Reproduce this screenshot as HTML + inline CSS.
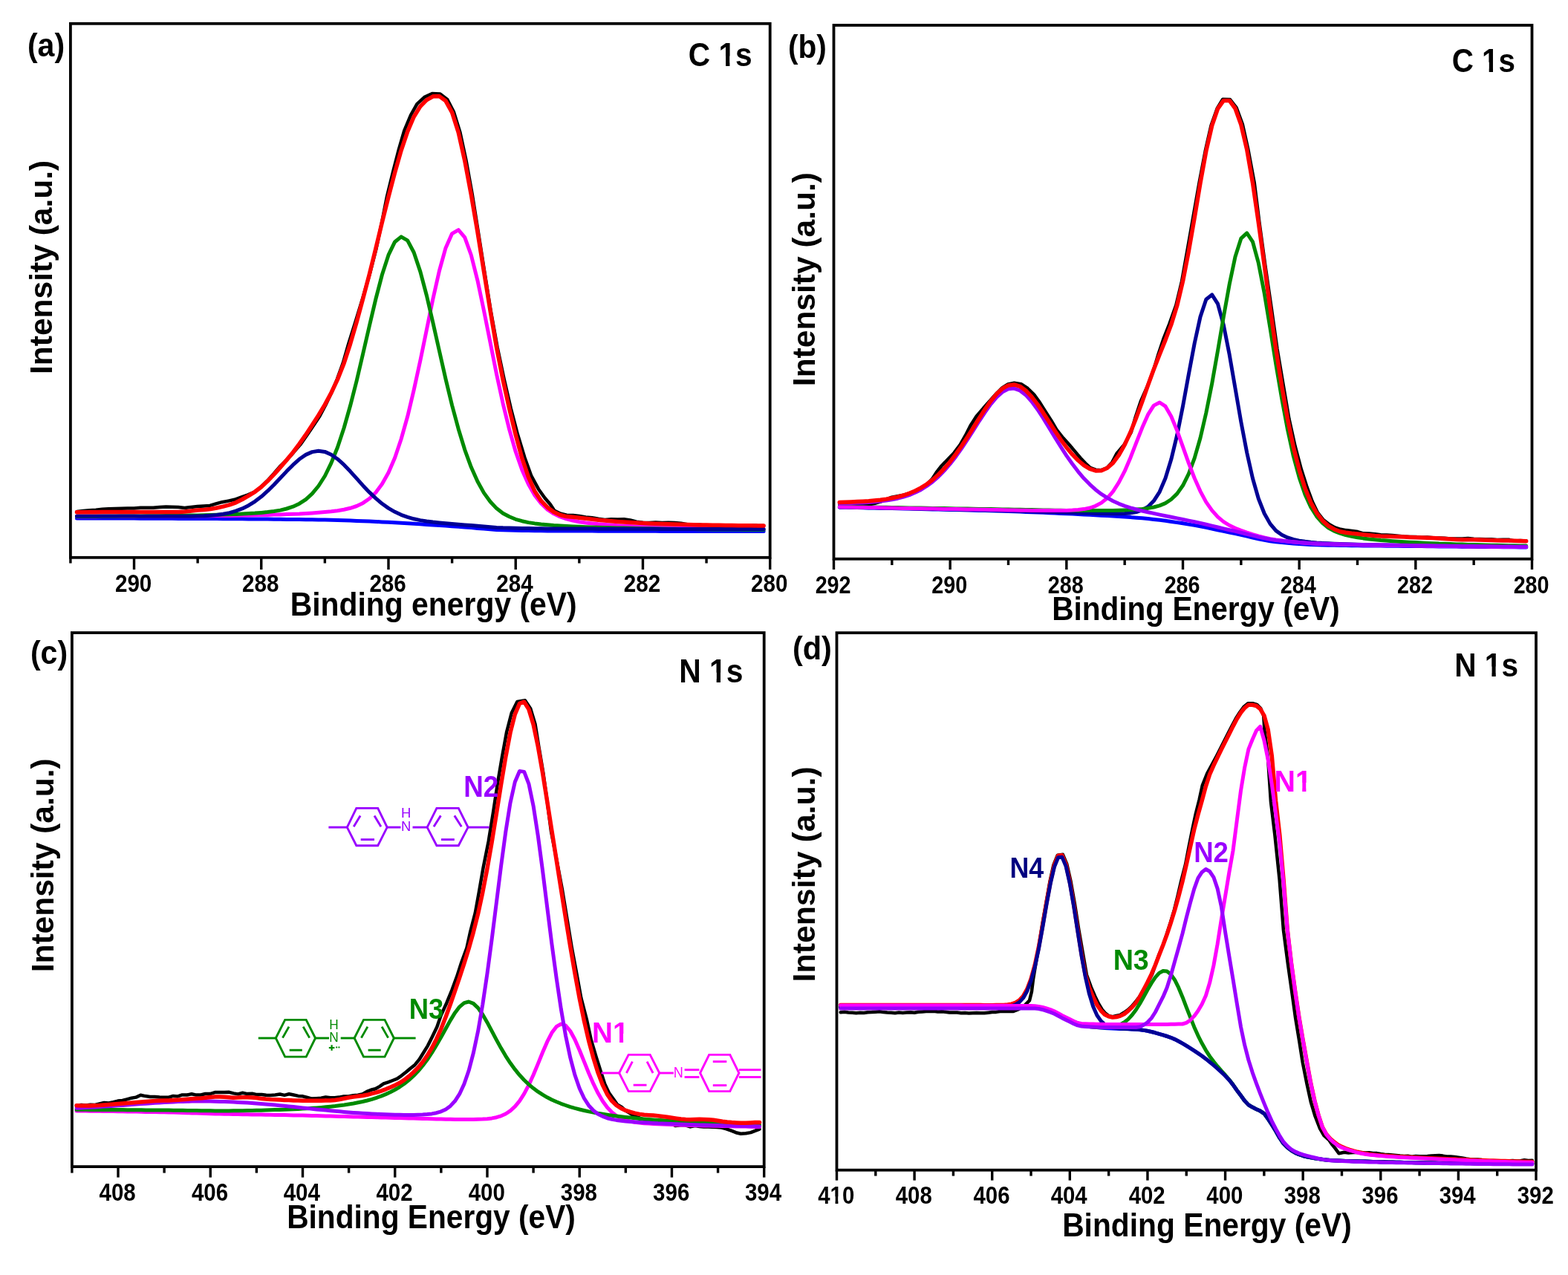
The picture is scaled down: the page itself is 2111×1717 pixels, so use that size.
<!DOCTYPE html>
<html><head><meta charset="utf-8"><style>
html,body{margin:0;padding:0;background:#fff;}
svg{display:block;}
text{font-family:"Liberation Sans",Arial,sans-serif;font-weight:bold;}
</style></head><body>
<svg xmlns="http://www.w3.org/2000/svg" width="2111" height="1717" viewBox="0 0 2111 1717">
<rect width="2111" height="1717" fill="#fff"/>
<defs><clipPath id="c1_0" clipPathUnits="userSpaceOnUse"><path d="M-16.79,-50.36 H72.78 V20.14 H-16.79 Z M20.01,-10.07 H26.62 V1.01 H20.01 Z M31.02,-10.07 H37.47 V1.01 H31.02 Z" clip-rule="evenodd"/></clipPath><clipPath id="c1_1" clipPathUnits="userSpaceOnUse"><path d="M-22.54,-67.61 H117.72 V27.04 H-22.54 Z M46.87,-13.52 H55.75 V1.35 H46.87 Z M61.66,-13.52 H70.31 V1.35 H61.66 Z" clip-rule="evenodd"/></clipPath><clipPath id="c1_2" clipPathUnits="userSpaceOnUse"><path d="M-22.32,-66.97 H116.62 V26.79 H-22.32 Z M46.43,-13.39 H55.23 V1.34 H46.43 Z M61.08,-13.39 H69.65 V1.34 H61.08 Z" clip-rule="evenodd"/></clipPath><clipPath id="c1_3" clipPathUnits="userSpaceOnUse"><path d="M-22.61,-67.82 H118.10 V27.13 H-22.61 Z M47.02,-13.56 H55.93 V1.36 H47.02 Z M61.85,-13.56 H70.53 V1.36 H61.85 Z" clip-rule="evenodd"/></clipPath><clipPath id="c1_4" clipPathUnits="userSpaceOnUse"><path d="M-22.57,-67.71 H117.91 V27.09 H-22.57 Z M46.95,-13.54 H55.84 V1.35 H46.95 Z M61.76,-13.54 H70.42 V1.35 H61.76 Z" clip-rule="evenodd"/></clipPath><clipPath id="c1_5" clipPathUnits="userSpaceOnUse"><path d="M-19.64,-58.91 H69.83 V23.57 H-19.64 Z M29.93,-11.78 H37.67 V1.18 H29.93 Z M42.81,-11.78 H50.35 V1.18 H42.81 Z" clip-rule="evenodd"/></clipPath><clipPath id="c1_6" clipPathUnits="userSpaceOnUse"><path d="M-19.93,-59.78 H70.86 V23.91 H-19.93 Z M30.37,-11.96 H38.22 V1.20 H30.37 Z M43.44,-11.96 H51.09 V1.20 H43.44 Z" clip-rule="evenodd"/></clipPath></defs>
<rect x="94.9" y="31.8" width="941.80" height="719.00" fill="none" stroke="#000" stroke-width="3.8"/>
<line x1="1036.70" y1="750.8" x2="1036.70" y2="767" stroke="#000" stroke-width="3.4"/>
<line x1="865.46" y1="750.8" x2="865.46" y2="767" stroke="#000" stroke-width="3.4"/>
<line x1="694.23" y1="750.8" x2="694.23" y2="767" stroke="#000" stroke-width="3.4"/>
<line x1="522.99" y1="750.8" x2="522.99" y2="767" stroke="#000" stroke-width="3.4"/>
<line x1="351.75" y1="750.8" x2="351.75" y2="767" stroke="#000" stroke-width="3.4"/>
<line x1="180.52" y1="750.8" x2="180.52" y2="767" stroke="#000" stroke-width="3.4"/>
<line x1="951.08" y1="750.8" x2="951.08" y2="758.5" stroke="#000" stroke-width="3.4"/>
<line x1="779.85" y1="750.8" x2="779.85" y2="758.5" stroke="#000" stroke-width="3.4"/>
<line x1="608.61" y1="750.8" x2="608.61" y2="758.5" stroke="#000" stroke-width="3.4"/>
<line x1="437.37" y1="750.8" x2="437.37" y2="758.5" stroke="#000" stroke-width="3.4"/>
<line x1="266.14" y1="750.8" x2="266.14" y2="758.5" stroke="#000" stroke-width="3.4"/>
<line x1="94.90" y1="750.8" x2="94.90" y2="758.5" stroke="#000" stroke-width="3.4"/>
<text transform="translate(1011.11,796.80) scale(0.8750,1)" font-size="33.86" fill="#000">280</text>
<text transform="translate(839.87,796.80) scale(0.8750,1)" font-size="33.86" fill="#000">282</text>
<text transform="translate(668.19,796.80) scale(0.8750,1)" font-size="33.86" fill="#000">284</text>
<text transform="translate(497.40,796.80) scale(0.8750,1)" font-size="33.86" fill="#000">286</text>
<text transform="translate(326.02,796.80) scale(0.8750,1)" font-size="33.86" fill="#000">288</text>
<text transform="translate(154.93,796.80) scale(0.8750,1)" font-size="33.86" fill="#000">290</text>
<rect x="1122.5" y="34.0" width="940.00" height="718.70" fill="none" stroke="#000" stroke-width="3.8"/>
<line x1="2062.50" y1="752.7" x2="2062.50" y2="767" stroke="#000" stroke-width="3.4"/>
<line x1="1905.83" y1="752.7" x2="1905.83" y2="767" stroke="#000" stroke-width="3.4"/>
<line x1="1749.17" y1="752.7" x2="1749.17" y2="767" stroke="#000" stroke-width="3.4"/>
<line x1="1592.50" y1="752.7" x2="1592.50" y2="767" stroke="#000" stroke-width="3.4"/>
<line x1="1435.83" y1="752.7" x2="1435.83" y2="767" stroke="#000" stroke-width="3.4"/>
<line x1="1279.17" y1="752.7" x2="1279.17" y2="767" stroke="#000" stroke-width="3.4"/>
<line x1="1122.50" y1="752.7" x2="1122.50" y2="767" stroke="#000" stroke-width="3.4"/>
<line x1="1984.17" y1="752.7" x2="1984.17" y2="761" stroke="#000" stroke-width="3.4"/>
<line x1="1827.50" y1="752.7" x2="1827.50" y2="761" stroke="#000" stroke-width="3.4"/>
<line x1="1670.83" y1="752.7" x2="1670.83" y2="761" stroke="#000" stroke-width="3.4"/>
<line x1="1514.17" y1="752.7" x2="1514.17" y2="761" stroke="#000" stroke-width="3.4"/>
<line x1="1357.50" y1="752.7" x2="1357.50" y2="761" stroke="#000" stroke-width="3.4"/>
<line x1="1200.83" y1="752.7" x2="1200.83" y2="761" stroke="#000" stroke-width="3.4"/>
<text transform="translate(2037.64,798.80) scale(0.8750,1)" font-size="32.86" fill="#000">280</text>
<text transform="translate(1880.97,798.80) scale(0.8750,1)" font-size="32.86" fill="#000">282</text>
<text transform="translate(1723.87,798.80) scale(0.8750,1)" font-size="32.86" fill="#000">284</text>
<text transform="translate(1567.64,798.80) scale(0.8750,1)" font-size="32.86" fill="#000">286</text>
<text transform="translate(1410.83,798.80) scale(0.8750,1)" font-size="32.86" fill="#000">288</text>
<text transform="translate(1254.30,798.80) scale(0.8750,1)" font-size="32.86" fill="#000">290</text>
<text transform="translate(1097.64,798.80) scale(0.8750,1)" font-size="32.86" fill="#000">292</text>
<rect x="96.9" y="852.1" width="931.80" height="719.00" fill="none" stroke="#000" stroke-width="3.8"/>
<line x1="1028.70" y1="1571.1" x2="1028.70" y2="1585.6" stroke="#000" stroke-width="3.4"/>
<line x1="904.46" y1="1571.1" x2="904.46" y2="1585.6" stroke="#000" stroke-width="3.4"/>
<line x1="780.22" y1="1571.1" x2="780.22" y2="1585.6" stroke="#000" stroke-width="3.4"/>
<line x1="655.98" y1="1571.1" x2="655.98" y2="1585.6" stroke="#000" stroke-width="3.4"/>
<line x1="531.74" y1="1571.1" x2="531.74" y2="1585.6" stroke="#000" stroke-width="3.4"/>
<line x1="407.50" y1="1571.1" x2="407.50" y2="1585.6" stroke="#000" stroke-width="3.4"/>
<line x1="283.26" y1="1571.1" x2="283.26" y2="1585.6" stroke="#000" stroke-width="3.4"/>
<line x1="159.02" y1="1571.1" x2="159.02" y2="1585.6" stroke="#000" stroke-width="3.4"/>
<line x1="966.58" y1="1571.1" x2="966.58" y2="1579.6" stroke="#000" stroke-width="3.4"/>
<line x1="842.34" y1="1571.1" x2="842.34" y2="1579.6" stroke="#000" stroke-width="3.4"/>
<line x1="718.10" y1="1571.1" x2="718.10" y2="1579.6" stroke="#000" stroke-width="3.4"/>
<line x1="593.86" y1="1571.1" x2="593.86" y2="1579.6" stroke="#000" stroke-width="3.4"/>
<line x1="469.62" y1="1571.1" x2="469.62" y2="1579.6" stroke="#000" stroke-width="3.4"/>
<line x1="345.38" y1="1571.1" x2="345.38" y2="1579.6" stroke="#000" stroke-width="3.4"/>
<line x1="221.14" y1="1571.1" x2="221.14" y2="1579.6" stroke="#000" stroke-width="3.4"/>
<line x1="96.90" y1="1571.1" x2="96.90" y2="1579.6" stroke="#000" stroke-width="3.4"/>
<text transform="translate(1002.92,1616.80) scale(0.8750,1)" font-size="33.71" fill="#000">394</text>
<text transform="translate(879.12,1616.80) scale(0.8750,1)" font-size="33.71" fill="#000">396</text>
<text transform="translate(754.74,1616.80) scale(0.8750,1)" font-size="33.71" fill="#000">398</text>
<text transform="translate(630.64,1616.80) scale(0.8750,1)" font-size="33.71" fill="#000">400</text>
<text transform="translate(506.40,1616.80) scale(0.8750,1)" font-size="33.71" fill="#000">402</text>
<text transform="translate(381.72,1616.80) scale(0.8750,1)" font-size="33.71" fill="#000">404</text>
<text transform="translate(257.92,1616.80) scale(0.8750,1)" font-size="33.71" fill="#000">406</text>
<text transform="translate(133.54,1616.80) scale(0.8750,1)" font-size="33.71" fill="#000">408</text>
<rect x="1126.5" y="852.2" width="941.50" height="723.50" fill="none" stroke="#000" stroke-width="3.8"/>
<line x1="2068.00" y1="1575.7" x2="2068.00" y2="1589.6" stroke="#000" stroke-width="3.4"/>
<line x1="1963.39" y1="1575.7" x2="1963.39" y2="1589.6" stroke="#000" stroke-width="3.4"/>
<line x1="1858.78" y1="1575.7" x2="1858.78" y2="1589.6" stroke="#000" stroke-width="3.4"/>
<line x1="1754.17" y1="1575.7" x2="1754.17" y2="1589.6" stroke="#000" stroke-width="3.4"/>
<line x1="1649.56" y1="1575.7" x2="1649.56" y2="1589.6" stroke="#000" stroke-width="3.4"/>
<line x1="1544.94" y1="1575.7" x2="1544.94" y2="1589.6" stroke="#000" stroke-width="3.4"/>
<line x1="1440.33" y1="1575.7" x2="1440.33" y2="1589.6" stroke="#000" stroke-width="3.4"/>
<line x1="1335.72" y1="1575.7" x2="1335.72" y2="1589.6" stroke="#000" stroke-width="3.4"/>
<line x1="1231.11" y1="1575.7" x2="1231.11" y2="1589.6" stroke="#000" stroke-width="3.4"/>
<line x1="1126.50" y1="1575.7" x2="1126.50" y2="1589.6" stroke="#000" stroke-width="3.4"/>
<line x1="2015.69" y1="1575.7" x2="2015.69" y2="1583.6" stroke="#000" stroke-width="3.4"/>
<line x1="1911.08" y1="1575.7" x2="1911.08" y2="1583.6" stroke="#000" stroke-width="3.4"/>
<line x1="1806.47" y1="1575.7" x2="1806.47" y2="1583.6" stroke="#000" stroke-width="3.4"/>
<line x1="1701.86" y1="1575.7" x2="1701.86" y2="1583.6" stroke="#000" stroke-width="3.4"/>
<line x1="1597.25" y1="1575.7" x2="1597.25" y2="1583.6" stroke="#000" stroke-width="3.4"/>
<line x1="1492.64" y1="1575.7" x2="1492.64" y2="1583.6" stroke="#000" stroke-width="3.4"/>
<line x1="1388.03" y1="1575.7" x2="1388.03" y2="1583.6" stroke="#000" stroke-width="3.4"/>
<line x1="1283.42" y1="1575.7" x2="1283.42" y2="1583.6" stroke="#000" stroke-width="3.4"/>
<line x1="1178.81" y1="1575.7" x2="1178.81" y2="1583.6" stroke="#000" stroke-width="3.4"/>
<text transform="translate(2042.77,1621.30) scale(0.8750,1)" font-size="33.57" fill="#000">392</text>
<text transform="translate(1937.71,1621.30) scale(0.8750,1)" font-size="33.57" fill="#000">394</text>
<text transform="translate(1833.54,1621.30) scale(0.8750,1)" font-size="33.57" fill="#000">396</text>
<text transform="translate(1728.79,1621.30) scale(0.8750,1)" font-size="33.57" fill="#000">398</text>
<text transform="translate(1624.32,1621.30) scale(0.8750,1)" font-size="33.57" fill="#000">400</text>
<text transform="translate(1519.71,1621.30) scale(0.8750,1)" font-size="33.57" fill="#000">402</text>
<text transform="translate(1414.66,1621.30) scale(0.8750,1)" font-size="33.57" fill="#000">404</text>
<text transform="translate(1310.49,1621.30) scale(0.8750,1)" font-size="33.57" fill="#000">406</text>
<text transform="translate(1205.73,1621.30) scale(0.8750,1)" font-size="33.57" fill="#000">408</text>
<text transform="translate(1101.27,1621.30) scale(0.8750,1)" font-size="33.57" fill="#000" clip-path="url(#c1_0)">410</text>
<text transform="translate(36.95,76.15) scale(0.9325,1)" font-size="44.04" fill="#000">(a)</text>
<text transform="translate(1060.97,78.38) scale(0.9170,1)" font-size="44.36" fill="#000">(b)</text>
<text transform="translate(40.95,894.23) scale(0.9303,1)" font-size="44.15" fill="#000">(c)</text>
<text transform="translate(1066.92,888.34) scale(0.9520,1)" font-size="43.62" fill="#000">(d)</text>
<text transform="translate(926.77,88.95) scale(0.9028,1)" font-size="45.07" fill="#000" clip-path="url(#c1_1)">C 1s</text>
<text transform="translate(1954.68,97.15) scale(0.9058,1)" font-size="44.65" fill="#000" clip-path="url(#c1_2)">C 1s</text>
<text transform="translate(914.14,919.30) scale(0.9035,1)" font-size="45.21" fill="#000" clip-path="url(#c1_3)">N 1s</text>
<text transform="translate(1958.15,911.05) scale(0.9005,1)" font-size="45.14" fill="#000" clip-path="url(#c1_4)">N 1s</text>
<text transform="translate(390.64,829.00) scale(0.9189,1)" font-size="44.50" fill="#000">Binding energy (eV)</text>
<text transform="translate(1416.16,835.00) scale(0.9117,1)" font-size="44.50" fill="#000">Binding Energy (eV)</text>
<text transform="translate(386.15,1653.60) scale(0.9141,1)" font-size="44.50" fill="#000">Binding Energy (eV)</text>
<text transform="translate(1430.15,1665.00) scale(0.9165,1)" font-size="44.50" fill="#000">Binding Energy (eV)</text>
<text transform="translate(70.44,503.98) rotate(-90) scale(0.9971,1)" font-size="42.66" fill="#000">Intensity (a.u.)</text>
<text transform="translate(1097.46,520.18) rotate(-90) scale(1.0223,1)" font-size="41.60" fill="#000">Intensity (a.u.)</text>
<text transform="translate(71.83,1309.27) rotate(-90) scale(1.0058,1)" font-size="42.23" fill="#000">Intensity (a.u.)</text>
<text transform="translate(1097.44,1322.40) rotate(-90) scale(1.0269,1)" font-size="41.70" fill="#000">Intensity (a.u.)</text>
<polyline points="103.5,688.9 112.0,687.9 120.6,687.3 129.1,686.8 137.7,685.7 146.3,685.2 154.8,685.0 163.4,684.7 171.9,684.5 180.5,684.4 189.1,683.7 197.6,683.7 206.2,683.8 214.8,683.1 223.4,682.5 231.9,682.7 240.2,683.1 248.6,683.9 257.0,682.9 265.7,682.1 274.2,681.4 282.6,680.9 290.7,678.4 298.9,676.2 307.3,674.6 315.8,672.8 324.6,669.7 333.9,666.4 343.2,662.3 351.6,655.6 360.0,647.4 368.3,638.3 376.5,628.6 386.0,619.4 395.1,609.4 404.4,598.6 413.1,586.3 421.7,573.4 430.5,560.2 438.3,545.4 446.2,529.1 453.9,510.6 461.8,488.8 469.4,462.4 478.6,433.1 488.2,402.0 497.6,369.4 506.5,334.9 514.1,299.3 521.0,264.5 529.0,231.7 536.8,201.6 544.4,175.5 553.0,155.0 561.4,140.1 571.4,130.8 581.8,126.1 592.6,126.5 602.3,134.0 610.8,150.5 619.3,177.8 627.5,215.9 635.8,261.8 643.8,312.1 652.1,364.9 660.6,418.0 669.6,467.6 678.8,511.2 687.7,549.8 696.9,585.0 706.3,615.9 715.3,640.9 725.0,658.7 733.4,670.5 740.7,679.0 746.6,687.9 754.8,691.7 763.0,693.7 771.5,693.9 780.1,695.0 788.6,696.5 797.2,697.3 805.7,698.7 814.2,699.9 822.9,699.3 831.4,699.5 840.0,699.2 848.5,700.5 857.0,702.7 865.5,703.7 874.1,704.0 882.7,703.4 891.2,704.1 899.8,703.7 908.3,704.1 916.9,704.7 925.4,706.2 933.9,707.2 942.5,706.8 951.1,707.9 959.6,708.1 968.2,707.7 976.8,707.3 985.3,708.0 993.9,707.6 1002.5,707.5 1011.0,707.2 1019.6,707.8 1028.1,708.0" fill="none" stroke="#000000" stroke-width="4.5" stroke-linejoin="round" stroke-linecap="round"/>
<polyline points="103.5,698.0 112.0,698.0 120.6,698.0 129.1,698.0 137.7,698.0 146.3,698.1 154.8,698.1 163.4,698.1 172.0,698.1 180.5,698.1 189.1,698.2 197.6,698.2 206.2,698.2 214.8,698.3 223.3,698.3 231.9,698.3 240.5,698.4 249.0,698.4 257.6,698.4 266.1,698.5 274.7,698.5 283.3,698.6 291.8,698.6 300.4,698.7 308.9,698.7 317.5,698.8 326.1,698.8 334.6,698.9 343.2,698.9 351.8,699.0 360.3,699.1 368.9,699.2 377.4,699.3 386.0,699.4 394.6,699.5 403.1,699.6 411.7,699.7 420.2,699.8 428.8,699.9 437.4,700.1 445.9,700.2 454.5,700.5 463.1,700.8 471.6,701.1 480.2,701.4 488.7,701.7 497.3,702.1 505.9,702.5 514.4,702.9 523.0,703.3 531.6,703.8 540.1,704.3 548.7,704.8 557.2,705.3 565.8,705.8 574.4,706.4 582.9,706.9 591.5,707.5 600.0,708.1 608.6,708.7 617.2,709.3 625.7,709.9 634.3,710.6 642.9,711.4 651.4,712.0 660.0,712.7 668.5,713.4 677.1,713.8 685.7,714.0 694.2,714.2 702.8,714.4 711.4,714.5 719.9,714.7 728.5,714.8 737.0,714.9 745.6,714.9 754.2,715.0 762.7,715.0 771.3,715.0 779.8,715.1 788.4,715.1 797.0,715.1 805.5,715.2 814.1,715.2 822.7,715.2 831.2,715.2 839.8,715.3 848.3,715.3 856.9,715.3 865.5,715.3 874.0,715.3 882.6,715.3 891.1,715.4 899.7,715.4 908.3,715.4 916.8,715.4 925.4,715.4 934.0,715.4 942.5,715.4 951.1,715.5 959.6,715.5 968.2,715.5 976.8,715.5 985.3,715.5 993.9,715.5 1002.5,715.5 1011.0,715.5 1019.6,715.5 1028.1,715.5" fill="none" stroke="#0000ff" stroke-width="5" stroke-linejoin="round" stroke-linecap="round"/>
<polyline points="103.5,695.8 112.0,695.7 120.6,695.7 129.1,695.7 137.7,695.6 146.3,695.6 154.8,695.6 163.4,695.5 172.0,695.5 180.5,695.5 189.1,695.4 197.6,695.4 206.2,695.3 214.8,695.3 223.3,695.2 231.9,695.2 240.5,695.1 249.0,695.1 257.6,695.0 266.1,694.9 274.7,694.8 283.3,694.7 291.8,694.6 300.4,694.5 308.9,694.4 317.5,694.2 326.1,694.1 334.6,693.9 343.2,693.8 351.8,693.6 360.3,693.4 368.9,693.1 377.4,692.9 386.0,692.6 394.6,692.2 403.1,691.9 411.7,691.4 420.2,690.9 428.8,690.3 437.4,689.6 445.9,688.8 454.5,687.7 463.1,686.3 471.6,684.3 480.2,681.5 488.7,677.4 497.3,671.5 505.9,663.2 514.4,651.8 523.0,636.5 531.6,616.5 540.1,591.3 548.7,560.8 557.2,525.2 565.8,485.7 574.4,443.9 582.9,402.4 591.5,364.5 600.0,333.9 608.6,314.6 617.2,309.6 625.7,319.7 634.3,343.5 642.9,377.6 651.4,418.0 660.0,461.1 668.5,503.7 677.1,543.3 685.7,578.4 694.2,608.2 702.8,632.7 711.4,652.1 719.9,666.9 728.5,678.0 737.0,686.1 745.6,691.8 754.2,696.0 762.7,698.9 771.3,701.1 779.8,702.7 788.4,703.9 797.0,704.9 805.5,705.8 814.1,706.5 822.7,707.1 831.2,707.7 839.8,708.2 848.3,708.6 856.9,709.0 865.5,709.4 874.0,709.7 882.6,710.0 891.1,710.3 899.7,710.5 908.3,710.7 916.8,711.0 925.4,711.1 934.0,711.3 942.5,711.5 951.1,711.6 959.6,711.8 968.2,711.9 976.8,712.0 985.3,712.2 993.9,712.3 1002.5,712.4 1011.0,712.5 1019.6,712.5 1028.1,712.6" fill="none" stroke="#ff00ff" stroke-width="5" stroke-linejoin="round" stroke-linecap="round"/>
<polyline points="103.5,695.5 112.0,695.5 120.6,695.4 129.1,695.4 137.7,695.3 146.3,695.3 154.8,695.2 163.4,695.1 172.0,695.1 180.5,695.0 189.1,694.9 197.6,694.8 206.2,694.8 214.8,694.7 223.3,694.6 231.9,694.4 240.5,694.3 249.0,694.2 257.6,694.0 266.1,693.9 274.7,693.7 283.3,693.5 291.8,693.2 300.4,693.0 308.9,692.7 317.5,692.4 326.1,692.0 334.6,691.6 343.2,691.1 351.8,690.4 360.3,689.6 368.9,688.5 377.4,687.1 386.0,685.0 394.6,682.2 403.1,678.2 411.7,672.6 420.2,664.9 428.8,654.5 437.4,641.0 445.9,623.6 454.5,602.2 463.1,576.3 471.6,546.3 480.2,512.6 488.7,476.3 497.3,439.0 505.9,402.7 514.4,370.0 523.0,343.4 531.6,325.7 540.1,318.9 548.7,323.9 557.2,340.0 565.8,365.6 574.4,398.0 582.9,434.6 591.5,472.8 600.0,510.4 608.6,545.8 617.2,577.7 625.7,605.6 634.3,629.1 642.9,648.3 651.4,663.6 660.0,675.5 668.5,684.6 677.1,691.2 685.7,695.8 694.2,699.3 702.8,701.7 711.4,703.6 719.9,704.9 728.5,706.0 737.0,706.8 745.6,707.5 754.2,708.0 762.7,708.5 771.3,708.9 779.8,709.3 788.4,709.7 797.0,710.0 805.5,710.2 814.1,710.5 822.7,710.7 831.2,710.9 839.8,711.1 848.3,711.3 856.9,711.5 865.5,711.7 874.0,711.8 882.6,712.0 891.1,712.1 899.7,712.2 908.3,712.3 916.8,712.4 925.4,712.5 934.0,712.6 942.5,712.7 951.1,712.8 959.6,712.9 968.2,712.9 976.8,713.0 985.3,713.1 993.9,713.1 1002.5,713.2 1011.0,713.2 1019.6,713.3 1028.1,713.3" fill="none" stroke="#008a00" stroke-width="5" stroke-linejoin="round" stroke-linecap="round"/>
<polyline points="103.5,695.0 112.0,695.0 120.6,695.0 129.1,695.0 137.7,695.0 146.3,695.1 154.8,695.1 163.4,695.1 172.0,695.1 180.5,695.1 189.1,695.2 197.6,695.2 206.2,695.2 214.8,695.3 223.3,695.3 231.9,695.3 240.5,695.3 249.0,695.3 257.6,695.2 266.1,695.0 274.7,694.7 283.3,694.2 291.8,693.5 300.4,692.3 308.9,690.6 317.5,688.2 326.1,684.9 334.6,680.7 343.2,675.3 351.8,668.8 360.3,661.2 368.9,652.7 377.4,643.7 386.0,634.6 394.6,625.9 403.1,618.3 411.7,612.4 420.2,608.6 428.8,607.2 437.4,608.4 445.9,612.2 454.5,618.2 463.1,625.9 471.6,634.8 480.2,644.4 488.7,653.9 497.3,662.9 505.9,671.1 514.4,678.3 523.0,684.4 531.6,689.3 540.1,693.3 548.7,696.4 557.2,698.8 565.8,700.6 574.4,702.0 582.9,703.1 591.5,704.0 600.0,704.8 608.6,705.5 617.2,706.2 625.7,706.9 634.3,707.6 642.9,708.3 651.4,709.0 660.0,709.7 668.5,710.4 677.1,710.8 685.7,711.0 694.2,711.2 702.8,711.4 711.4,711.5 719.9,711.7 728.5,711.8 737.0,711.9 745.6,711.9 754.2,712.0 762.7,712.0 771.3,712.0 779.8,712.1 788.4,712.1 797.0,712.1 805.5,712.2 814.1,712.2 822.7,712.2 831.2,712.2 839.8,712.3 848.3,712.3 856.9,712.3 865.5,712.3 874.0,712.3 882.6,712.3 891.1,712.4 899.7,712.4 908.3,712.4 916.8,712.4 925.4,712.4 934.0,712.4 942.5,712.4 951.1,712.5 959.6,712.5 968.2,712.5 976.8,712.5 985.3,712.5 993.9,712.5 1002.5,712.5 1011.0,712.5 1019.6,712.5 1028.1,712.5" fill="none" stroke="#000094" stroke-width="5" stroke-linejoin="round" stroke-linecap="round"/>
<polyline points="103.5,689.8 112.0,689.8 120.6,689.7 129.1,689.7 137.7,689.6 146.3,689.6 154.8,689.6 163.4,689.6 172.0,689.5 180.5,689.5 189.1,689.5 197.6,689.5 206.2,689.5 214.8,689.5 223.3,689.5 231.9,689.6 240.5,689.5 249.0,689.1 257.6,688.0 266.1,687.1 274.7,686.4 283.3,685.5 291.8,684.0 300.4,682.1 308.9,679.9 317.5,676.8 326.1,672.5 334.6,667.7 343.2,662.3 351.8,655.7 360.3,647.8 368.9,638.9 377.4,629.4 386.0,619.4 394.6,609.0 403.1,597.7 411.7,585.4 420.2,572.5 428.8,559.2 437.4,544.9 445.9,529.0 454.5,510.9 463.1,489.2 471.6,463.1 480.2,433.5 488.7,402.1 497.3,369.4 505.9,334.7 514.4,299.4 523.0,265.0 531.6,232.4 540.1,202.6 548.7,177.1 557.2,157.2 565.8,143.4 574.4,134.6 582.9,129.8 591.5,129.6 600.0,135.8 608.6,151.4 617.2,178.4 625.7,216.3 634.3,262.1 642.9,312.3 651.4,365.0 660.0,418.1 668.5,467.8 677.1,511.5 685.7,550.3 694.2,585.6 702.8,616.9 711.4,642.4 719.9,661.4 728.5,674.4 737.0,683.2 745.6,689.5 754.2,693.5 762.7,695.6 771.3,696.3 779.8,697.2 788.4,698.3 797.0,699.3 805.5,700.3 814.1,701.1 822.7,701.8 831.2,702.5 839.8,703.1 848.3,703.6 856.9,704.1 865.5,704.5 874.0,704.9 882.6,705.2 891.1,705.5 899.7,705.8 908.3,706.1 916.8,706.3 925.4,706.5 934.0,706.7 942.5,706.9 951.1,707.1 959.6,707.2 968.2,707.3 976.8,707.5 985.3,707.6 993.9,707.7 1002.5,707.8 1011.0,707.8 1019.6,707.9 1028.1,708.0" fill="none" stroke="#ff0000" stroke-width="5.5" stroke-linejoin="round" stroke-linecap="round"/>
<polyline points="1130.4,679.0 1138.3,680.0 1146.2,680.3 1154.1,680.9 1161.9,679.5 1169.9,679.5 1177.7,677.9 1185.5,675.6 1193.1,672.5 1200.6,669.6 1208.4,668.1 1216.4,666.6 1224.3,664.3 1232.5,661.8 1240.4,657.5 1248.1,652.4 1254.9,645.1 1260.7,636.1 1267.5,627.5 1275.7,619.0 1284.6,609.7 1292.7,598.8 1299.8,586.4 1306.5,573.3 1314.5,560.8 1324.0,549.6 1333.2,539.3 1341.4,530.0 1349.1,522.4 1357.0,517.5 1365.5,515.7 1374.7,517.2 1383.6,523.0 1392.1,531.4 1399.9,542.1 1407.3,554.0 1415.2,566.2 1422.5,578.7 1431.1,589.6 1439.9,599.3 1447.6,608.4 1454.6,616.7 1461.3,623.9 1467.8,629.9 1475.2,632.7 1482.7,633.2 1490.4,630.0 1497.4,622.4 1503.3,611.0 1513.6,598.6 1522.8,582.2 1528.6,561.9 1535.8,540.4 1545.3,518.9 1553.3,497.4 1559.6,476.6 1566.2,456.9 1574.3,436.2 1583.3,411.1 1591.1,378.4 1598.3,338.2 1606.3,292.7 1614.5,246.1 1622.7,203.3 1630.5,168.9 1638.7,146.0 1646.2,133.7 1656.1,134.1 1664.7,145.2 1672.8,167.2 1680.3,201.0 1688.7,245.8 1695.4,299.4 1703.3,357.0 1711.7,414.9 1719.5,469.8 1727.9,519.7 1735.4,563.8 1743.7,601.2 1751.9,632.0 1759.8,656.6 1766.9,675.8 1773.9,690.2 1781.6,700.1 1789.7,706.3 1797.3,710.4 1804.8,712.8 1812.4,714.1 1820.0,715.0 1827.8,716.1 1835.5,718.3 1843.4,718.6 1851.2,719.3 1858.9,720.2 1866.7,720.4 1874.5,721.1 1882.4,721.8 1890.2,722.5 1898.0,722.9 1905.9,722.9 1913.7,723.7 1921.5,723.4 1929.4,724.2 1937.2,724.5 1945.1,724.7 1952.9,725.4 1960.7,725.4 1968.5,725.5 1976.3,724.9 1984.2,725.8 1992.0,726.0 1999.9,726.3 2007.7,726.3 2015.5,726.9 2023.4,726.8 2031.2,726.8 2039.0,728.4 2046.9,728.0 2054.7,728.4" fill="none" stroke="#000000" stroke-width="4.5" stroke-linejoin="round" stroke-linecap="round"/>
<polyline points="1130.3,683.2 1138.2,683.3 1146.0,683.5 1153.8,683.6 1161.7,683.8 1169.5,684.0 1177.3,684.1 1185.2,684.3 1193.0,684.5 1200.8,684.6 1208.7,684.8 1216.5,685.0 1224.3,685.1 1232.2,685.3 1240.0,685.5 1247.8,685.7 1255.7,685.9 1263.5,686.0 1271.3,686.2 1279.2,686.4 1287.0,686.6 1294.8,686.8 1302.7,687.0 1310.5,687.2 1318.3,687.4 1326.2,687.6 1334.0,687.8 1341.8,688.1 1349.7,688.3 1357.5,688.6 1365.3,688.8 1373.2,689.1 1381.0,689.4 1388.8,689.7 1396.7,690.0 1404.5,690.3 1412.3,690.7 1420.2,691.0 1428.0,691.4 1435.8,691.7 1443.7,692.1 1451.5,692.5 1459.3,692.9 1467.2,693.3 1475.0,693.7 1482.8,694.2 1490.7,694.6 1498.5,695.1 1506.3,695.5 1514.2,696.0 1522.0,696.6 1529.8,697.2 1537.7,697.8 1545.5,698.5 1553.3,699.4 1561.2,700.3 1569.0,701.3 1576.8,702.4 1584.7,703.6 1592.5,704.8 1600.3,706.1 1608.2,707.4 1616.0,708.9 1623.8,710.4 1631.7,712.1 1639.5,713.7 1647.3,715.4 1655.2,717.0 1663.0,718.6 1670.8,720.3 1678.7,722.1 1686.5,724.0 1694.3,725.7 1702.2,727.3 1710.0,728.7 1717.8,729.8 1725.7,730.6 1733.5,731.3 1741.3,731.9 1749.2,732.5 1757.0,733.0 1764.8,733.5 1772.7,733.8 1780.5,734.0 1788.3,734.2 1796.2,734.3 1804.0,734.5 1811.8,734.6 1819.7,734.7 1827.5,734.8 1835.3,734.9 1843.2,735.0 1851.0,735.0 1858.8,735.1 1866.7,735.2 1874.5,735.3 1882.3,735.3 1890.2,735.4 1898.0,735.5 1905.8,735.6 1913.7,735.6 1921.5,735.7 1929.3,735.8 1937.2,735.9 1945.0,736.0 1952.8,736.0 1960.7,736.1 1968.5,736.2 1976.3,736.3 1984.2,736.3 1992.0,736.4 1999.8,736.5 2007.7,736.6 2015.5,736.6 2023.3,736.7 2031.2,736.8 2039.0,736.8 2046.8,736.9 2054.7,736.9" fill="none" stroke="#0000ff" stroke-width="5" stroke-linejoin="round" stroke-linecap="round"/>
<polyline points="1130.3,682.9 1138.2,683.1 1146.0,683.2 1153.8,683.4 1161.7,683.5 1169.5,683.7 1177.3,683.8 1185.2,684.0 1193.0,684.1 1200.8,684.3 1208.7,684.5 1216.5,684.6 1224.3,684.8 1232.2,684.9 1240.0,685.1 1247.8,685.3 1255.7,685.4 1263.5,685.6 1271.3,685.8 1279.2,685.9 1287.0,686.1 1294.8,686.2 1302.7,686.4 1310.5,686.6 1318.3,686.8 1326.2,687.0 1334.0,687.1 1341.8,687.3 1349.7,687.5 1357.5,687.8 1365.3,688.0 1373.2,688.2 1381.0,688.5 1388.8,688.7 1396.7,688.9 1404.5,689.2 1412.3,689.4 1420.2,689.7 1428.0,689.9 1435.8,690.2 1443.7,690.4 1451.5,690.7 1459.3,690.9 1467.2,691.1 1475.0,691.4 1482.8,691.6 1490.7,691.7 1498.5,691.8 1506.3,691.8 1514.2,691.5 1522.0,690.9 1529.8,689.6 1537.7,687.0 1545.5,682.4 1553.3,674.6 1561.2,662.3 1569.0,644.0 1576.8,618.6 1584.7,585.9 1592.5,546.9 1600.3,504.2 1608.2,462.2 1616.0,426.6 1623.8,403.3 1631.7,396.9 1639.5,409.1 1647.3,437.7 1655.2,477.6 1663.0,522.9 1670.8,568.2 1678.7,609.5 1686.5,644.2 1694.3,671.5 1702.2,691.5 1710.0,705.4 1717.8,714.6 1725.7,720.3 1733.5,724.0 1741.3,726.5 1749.2,728.1 1757.0,729.3 1764.8,730.2 1772.7,730.9 1780.5,731.4 1788.3,731.8 1796.2,732.2 1804.0,732.5 1811.8,732.8 1819.7,733.0 1827.5,733.3 1835.3,733.5 1843.2,733.6 1851.0,733.8 1858.8,734.0 1866.7,734.1 1874.5,734.2 1882.3,734.4 1890.2,734.5 1898.0,734.6 1905.8,734.8 1913.7,734.9 1921.5,735.0 1929.3,735.1 1937.2,735.2 1945.0,735.4 1952.8,735.5 1960.7,735.6 1968.5,735.7 1976.3,735.8 1984.2,735.9 1992.0,736.0 1999.8,736.0 2007.7,736.1 2015.5,736.2 2023.3,736.3 2031.2,736.4 2039.0,736.5 2046.8,736.5 2054.7,736.6" fill="none" stroke="#000094" stroke-width="5" stroke-linejoin="round" stroke-linecap="round"/>
<polyline points="1130.3,682.3 1138.2,682.4 1146.0,682.5 1153.8,682.7 1161.7,682.8 1169.5,682.9 1177.3,683.1 1185.2,683.2 1193.0,683.3 1200.8,683.5 1208.7,683.6 1216.5,683.7 1224.3,683.9 1232.2,684.0 1240.0,684.1 1247.8,684.3 1255.7,684.4 1263.5,684.5 1271.3,684.6 1279.2,684.8 1287.0,684.9 1294.8,685.0 1302.7,685.1 1310.5,685.2 1318.3,685.4 1326.2,685.5 1334.0,685.6 1341.8,685.8 1349.7,685.9 1357.5,686.0 1365.3,686.2 1373.2,686.3 1381.0,686.5 1388.8,686.6 1396.7,686.8 1404.5,686.9 1412.3,687.0 1420.2,687.2 1428.0,687.3 1435.8,687.4 1443.7,687.5 1451.5,687.5 1459.3,687.6 1467.2,687.6 1475.0,687.6 1482.8,687.6 1490.7,687.5 1498.5,687.4 1506.3,687.2 1514.2,686.9 1522.0,686.5 1529.8,686.0 1537.7,685.4 1545.5,684.4 1553.3,683.0 1561.2,680.9 1569.0,677.6 1576.8,672.5 1584.7,664.9 1592.5,653.8 1600.3,638.1 1608.2,616.9 1616.0,589.7 1623.8,556.0 1631.7,516.4 1639.5,472.4 1647.3,426.6 1655.2,382.7 1663.0,345.7 1670.8,321.2 1678.7,313.9 1686.5,325.6 1694.3,354.2 1702.2,394.8 1710.0,441.9 1717.8,490.5 1725.7,536.8 1733.5,578.5 1741.3,614.1 1749.2,643.1 1757.0,665.9 1764.8,683.0 1772.7,695.5 1780.5,704.4 1788.3,710.7 1796.2,715.1 1804.0,718.2 1811.8,720.6 1819.7,722.3 1827.5,723.7 1835.3,724.9 1843.2,725.9 1851.0,726.7 1858.8,727.5 1866.7,728.1 1874.5,728.7 1882.3,729.3 1890.2,729.8 1898.0,730.2 1905.8,730.6 1913.7,731.0 1921.5,731.4 1929.3,731.7 1937.2,732.1 1945.0,732.3 1952.8,732.6 1960.7,732.9 1968.5,733.1 1976.3,733.4 1984.2,733.6 1992.0,733.8 1999.8,734.0 2007.7,734.2 2015.5,734.3 2023.3,734.5 2031.2,734.7 2039.0,734.8 2046.8,735.0 2054.7,735.1" fill="none" stroke="#008a00" stroke-width="5" stroke-linejoin="round" stroke-linecap="round"/>
<polyline points="1130.3,682.8 1138.2,682.9 1146.0,683.1 1153.8,683.2 1161.7,683.3 1169.5,683.5 1177.3,683.6 1185.2,683.8 1193.0,683.9 1200.8,684.1 1208.7,684.2 1216.5,684.4 1224.3,684.5 1232.2,684.7 1240.0,684.8 1247.8,685.0 1255.7,685.1 1263.5,685.2 1271.3,685.4 1279.2,685.5 1287.0,685.6 1294.8,685.8 1302.7,685.9 1310.5,686.1 1318.3,686.2 1326.2,686.3 1334.0,686.5 1341.8,686.6 1349.7,686.7 1357.5,686.9 1365.3,687.0 1373.2,687.2 1381.0,687.3 1388.8,687.4 1396.7,687.5 1404.5,687.6 1412.3,687.6 1420.2,687.6 1428.0,687.6 1435.8,687.4 1443.7,687.1 1451.5,686.6 1459.3,685.6 1467.2,684.0 1475.0,681.3 1482.8,677.1 1490.7,670.8 1498.5,661.8 1506.3,649.7 1514.2,634.4 1522.0,616.2 1529.8,596.2 1537.7,576.1 1545.5,558.4 1553.3,546.1 1561.2,542.0 1569.0,547.2 1576.8,560.7 1584.7,579.9 1592.5,601.7 1600.3,623.7 1608.2,644.0 1616.0,661.6 1623.8,676.1 1631.7,687.4 1639.5,696.1 1647.3,702.6 1655.2,707.5 1663.0,711.2 1670.8,714.3 1678.7,717.1 1686.5,719.6 1694.3,721.9 1702.2,723.9 1710.0,725.6 1717.8,727.0 1725.7,728.0 1733.5,729.0 1741.3,729.8 1749.2,730.6 1757.0,731.2 1764.8,731.8 1772.7,732.2 1780.5,732.6 1788.3,732.8 1796.2,733.1 1804.0,733.3 1811.8,733.5 1819.7,733.6 1827.5,733.8 1835.3,733.9 1843.2,734.1 1851.0,734.2 1858.8,734.3 1866.7,734.4 1874.5,734.5 1882.3,734.6 1890.2,734.7 1898.0,734.8 1905.8,735.0 1913.7,735.1 1921.5,735.2 1929.3,735.3 1937.2,735.4 1945.0,735.5 1952.8,735.6 1960.7,735.7 1968.5,735.8 1976.3,735.9 1984.2,735.9 1992.0,736.0 1999.8,736.1 2007.7,736.2 2015.5,736.3 2023.3,736.4 2031.2,736.4 2039.0,736.5 2046.8,736.6 2054.7,736.6" fill="none" stroke="#ff00ff" stroke-width="5" stroke-linejoin="round" stroke-linecap="round"/>
<polyline points="1130.3,678.0 1138.2,677.8 1146.0,677.6 1153.8,677.3 1161.7,676.9 1169.5,676.4 1177.3,675.8 1185.2,675.1 1193.0,674.1 1200.8,672.8 1208.7,671.2 1216.5,669.2 1224.3,666.6 1232.2,663.3 1240.0,659.4 1247.8,654.5 1255.7,648.7 1263.5,641.8 1271.3,633.8 1279.2,624.7 1287.0,614.6 1294.8,603.5 1302.7,591.7 1310.5,579.4 1318.3,567.0 1326.2,555.1 1334.0,544.1 1341.8,534.8 1349.7,527.8 1357.5,523.8 1365.3,523.1 1373.2,525.9 1381.0,531.9 1388.8,540.5 1396.7,551.2 1404.5,563.2 1412.3,575.9 1420.2,588.9 1428.0,601.5 1435.8,613.6 1443.7,624.8 1451.5,635.1 1459.3,644.3 1467.2,652.3 1475.0,659.4 1482.8,665.4 1490.7,670.4 1498.5,674.7 1506.3,678.3 1514.2,681.3 1522.0,683.8 1529.8,686.0 1537.7,688.0 1545.5,689.7 1553.3,691.4 1561.2,693.1 1569.0,694.7 1576.8,696.3 1584.7,697.9 1592.5,699.5 1600.3,701.1 1608.2,702.7 1616.0,704.4 1623.8,706.3 1631.7,708.1 1639.5,710.0 1647.3,711.9 1655.2,713.7 1663.0,715.4 1670.8,717.3 1678.7,719.2 1686.5,721.2 1694.3,723.1 1702.2,724.8 1710.0,726.3 1717.8,727.5 1725.7,728.3 1733.5,729.1 1741.3,729.9 1749.2,730.6 1757.0,731.1 1764.8,731.6 1772.7,732.0 1780.5,732.3 1788.3,732.6 1796.2,732.8 1804.0,732.9 1811.8,733.1 1819.7,733.3 1827.5,733.4 1835.3,733.6 1843.2,733.7 1851.0,733.8 1858.8,733.9 1866.7,734.0 1874.5,734.1 1882.3,734.2 1890.2,734.3 1898.0,734.4 1905.8,734.6 1913.7,734.7 1921.5,734.8 1929.3,734.9 1937.2,735.0 1945.0,735.1 1952.8,735.2 1960.7,735.3 1968.5,735.4 1976.3,735.5 1984.2,735.6 1992.0,735.7 1999.8,735.8 2007.7,735.8 2015.5,735.9 2023.3,736.0 2031.2,736.1 2039.0,736.2 2046.8,736.2 2054.7,736.3" fill="none" stroke="#9900ff" stroke-width="5" stroke-linejoin="round" stroke-linecap="round"/>
<polyline points="1130.3,676.5 1138.2,676.3 1146.0,676.0 1153.8,675.6 1161.7,675.2 1169.5,674.7 1177.3,674.0 1185.2,673.2 1193.0,672.1 1200.8,670.8 1208.7,669.1 1216.5,667.0 1224.3,664.3 1232.2,661.0 1240.0,656.9 1247.8,652.0 1255.7,646.0 1263.5,639.0 1271.3,630.9 1279.2,621.7 1287.0,611.4 1294.8,600.2 1302.7,588.2 1310.5,575.8 1318.3,563.2 1326.2,551.1 1334.0,539.9 1341.8,530.4 1349.7,523.2 1357.5,518.9 1365.3,517.9 1373.2,520.3 1381.0,525.9 1388.8,534.2 1396.7,544.4 1404.5,555.9 1412.3,568.0 1420.2,580.2 1428.0,591.8 1435.8,602.5 1443.7,611.9 1451.5,620.0 1459.3,626.6 1467.2,631.4 1475.0,633.9 1482.8,633.7 1490.7,630.3 1498.5,623.4 1506.3,612.9 1514.2,598.9 1522.0,581.9 1529.8,562.4 1537.7,541.1 1545.5,518.9 1553.3,497.4 1561.2,477.2 1569.0,457.9 1576.8,437.1 1584.7,411.5 1592.5,378.7 1600.3,338.5 1608.2,293.0 1616.0,246.3 1623.8,203.5 1631.7,169.2 1639.5,146.4 1647.3,135.4 1655.2,135.4 1663.0,146.0 1670.8,167.8 1678.7,201.4 1686.5,246.2 1694.3,299.5 1702.2,357.2 1710.0,415.1 1717.8,470.1 1725.7,520.1 1733.5,564.1 1741.3,601.7 1749.2,632.8 1757.0,657.6 1764.8,676.8 1772.7,691.0 1780.5,701.1 1788.3,708.1 1796.2,712.7 1804.0,715.7 1811.8,717.3 1819.7,718.3 1827.5,719.1 1835.3,719.9 1843.2,720.8 1851.0,721.6 1858.8,722.1 1866.7,722.3 1874.5,722.5 1882.3,722.7 1890.2,723.0 1898.0,723.4 1905.8,723.7 1913.7,723.9 1921.5,724.2 1929.3,724.5 1937.2,725.0 1945.0,725.6 1952.8,726.1 1960.7,726.5 1968.5,726.7 1976.3,726.7 1984.2,726.8 1992.0,727.0 1999.8,727.2 2007.7,727.5 2015.5,727.7 2023.3,727.9 2031.2,728.1 2039.0,728.3 2046.8,728.6 2054.7,728.8" fill="none" stroke="#ff0000" stroke-width="5.5" stroke-linejoin="round" stroke-linecap="round"/>
<polyline points="103.1,1489.6 109.4,1487.9 115.6,1488.4 121.7,1487.7 127.9,1488.0 134.0,1486.4 140.2,1484.9 146.4,1485.4 152.6,1484.1 158.7,1482.6 164.9,1482.0 171.0,1480.4 177.1,1478.7 183.3,1477.6 189.3,1474.8 195.7,1476.1 202.1,1476.9 208.4,1477.1 214.8,1477.6 221.0,1477.8 227.2,1477.7 233.2,1475.9 239.4,1476.4 245.4,1474.4 251.7,1474.5 258.0,1473.3 264.3,1474.6 270.5,1474.5 276.5,1473.0 282.9,1473.1 289.2,1471.1 295.7,1471.1 302.2,1471.1 308.6,1470.8 314.5,1472.4 320.4,1473.4 326.6,1471.8 333.0,1473.1 339.5,1472.7 345.8,1474.1 352.3,1474.0 358.3,1474.7 364.3,1474.9 370.5,1474.5 376.8,1473.5 382.9,1474.9 389.2,1473.3 395.4,1474.5 401.5,1475.9 407.6,1476.3 413.7,1478.0 419.9,1479.6 426.1,1479.2 432.3,1478.7 438.5,1477.4 444.6,1478.3 450.6,1478.2 456.6,1477.6 462.9,1476.4 469.3,1476.4 475.6,1475.3 481.8,1474.8 487.9,1473.4 493.6,1470.2 499.4,1467.8 505.5,1466.3 511.0,1463.1 516.4,1459.4 522.5,1457.4 528.7,1455.0 534.7,1452.6 540.2,1448.8 546.0,1444.3 552.0,1439.2 558.6,1433.9 564.5,1426.8 569.9,1418.0 576.0,1408.1 581.8,1396.4 588.3,1382.9 593.8,1367.1 601.3,1350.7 608.4,1333.3 615.1,1315.1 621.2,1296.2 628.4,1276.6 633.3,1254.3 639.8,1229.4 645.0,1200.7 650.6,1168.4 657.7,1132.9 663.9,1094.7 669.8,1055.7 676.1,1018.5 682.1,985.7 688.7,960.3 696.3,945.0 706.9,943.2 714.2,954.2 720.5,975.2 725.3,1005.0 731.3,1040.5 736.7,1079.2 741.9,1119.0 749.5,1158.4 756.9,1197.7 763.3,1236.6 769.5,1274.5 776.2,1310.5 782.3,1343.9 790.1,1373.9 795.9,1400.7 802.7,1423.7 808.9,1443.3 814.2,1459.7 820.1,1472.2 826.2,1480.5 830.9,1487.3 837.0,1491.0 842.3,1495.6 848.0,1499.2 853.8,1503.0 860.1,1505.2 866.5,1507.5 872.9,1508.6 878.9,1510.3 885.0,1510.6 890.9,1512.3 897.0,1513.1 903.3,1513.2 909.3,1516.0 916.0,1515.2 922.6,1515.3 929.3,1517.4 935.8,1516.1 941.8,1516.9 947.6,1517.6 953.4,1517.6 959.2,1517.7 965.2,1517.9 971.5,1518.6 978.1,1520.3 984.5,1522.7 990.8,1525.2 997.4,1526.7 1004.2,1526.3 1010.7,1525.1 1016.5,1522.8 1022.5,1520.6" fill="none" stroke="#000000" stroke-width="4.5" stroke-linejoin="round" stroke-linecap="round"/>
<polyline points="103.1,1496.0 109.3,1496.0 115.5,1496.1 121.7,1496.2 128.0,1496.2 134.2,1496.3 140.4,1496.4 146.6,1496.5 152.8,1496.6 159.0,1496.7 165.2,1496.8 171.4,1496.9 177.7,1497.0 183.9,1497.1 190.1,1497.2 196.3,1497.4 202.5,1497.5 208.7,1497.6 214.9,1497.7 221.1,1497.8 227.4,1498.0 233.6,1498.1 239.8,1498.3 246.0,1498.5 252.2,1498.7 258.4,1498.9 264.6,1499.1 270.8,1499.3 277.0,1499.5 283.3,1499.7 289.5,1499.9 295.7,1500.0 301.9,1500.2 308.1,1500.3 314.3,1500.5 320.5,1500.6 326.7,1500.7 333.0,1500.8 339.2,1500.9 345.4,1501.0 351.6,1501.1 357.8,1501.2 364.0,1501.3 370.2,1501.4 376.4,1501.5 382.7,1501.6 388.9,1501.7 395.1,1501.9 401.3,1502.0 407.5,1502.1 413.7,1502.3 419.9,1502.4 426.1,1502.6 432.3,1502.7 438.6,1502.9 444.8,1503.0 451.0,1503.2 457.2,1503.4 463.4,1503.5 469.6,1503.7 475.8,1503.9 482.0,1504.0 488.3,1504.2 494.5,1504.4 500.7,1504.5 506.9,1504.7 513.1,1504.9 519.3,1505.0 525.5,1505.2 531.7,1505.4 538.0,1505.5 544.2,1505.7 550.4,1505.9 556.6,1506.0 562.8,1506.2 569.0,1506.4 575.2,1506.6 581.4,1506.7 587.6,1506.9 593.9,1507.0 600.1,1507.2 606.3,1507.3 612.5,1507.4 618.7,1507.5 624.9,1507.5 631.1,1507.5 637.3,1507.5 643.6,1507.3 649.8,1507.1 656.0,1506.7 662.2,1505.9 668.4,1504.7 674.6,1502.8 680.8,1500.0 687.0,1495.9 693.3,1490.2 699.5,1482.6 705.7,1472.9 711.9,1461.1 718.1,1447.5 724.3,1432.6 730.5,1417.3 736.7,1402.9 742.9,1390.8 749.2,1382.4 755.4,1379.0 761.6,1381.2 767.8,1388.5 774.0,1400.0 780.2,1414.2 786.4,1429.6 792.6,1445.0 798.9,1459.4 805.1,1472.1 811.3,1482.7 817.5,1491.2 823.7,1497.7 829.9,1502.6 836.1,1506.0 842.3,1508.4 848.6,1510.1 854.8,1511.3 861.0,1512.1 867.2,1512.7 873.4,1513.1 879.6,1513.5 885.8,1513.8 892.0,1514.1 898.2,1514.3 904.5,1514.6 910.7,1514.8 916.9,1515.0 923.1,1515.2 929.3,1515.4 935.5,1515.6 941.7,1515.7 947.9,1515.9 954.2,1516.0 960.4,1516.2 966.6,1516.3 972.8,1516.5 979.0,1516.6 985.2,1516.7 991.4,1516.9 997.6,1517.0 1003.9,1517.1 1010.1,1517.2 1016.3,1517.4 1022.5,1517.5" fill="none" stroke="#ff00ff" stroke-width="5" stroke-linejoin="round" stroke-linecap="round"/>
<polyline points="103.1,1494.3 109.3,1494.3 115.5,1494.3 121.7,1494.4 128.0,1494.4 134.2,1494.4 140.4,1494.5 146.6,1494.5 152.8,1494.5 159.0,1494.6 165.2,1494.6 171.4,1494.7 177.7,1494.7 183.9,1494.8 190.1,1494.8 196.3,1494.9 202.5,1494.9 208.7,1495.0 214.9,1495.0 221.1,1495.1 227.4,1495.1 233.6,1495.2 239.8,1495.2 246.0,1495.3 252.2,1495.4 258.4,1495.5 264.6,1495.6 270.8,1495.7 277.0,1495.8 283.3,1495.8 289.5,1495.9 295.7,1495.9 301.9,1495.9 308.1,1495.9 314.3,1495.8 320.5,1495.8 326.7,1495.7 333.0,1495.6 339.2,1495.5 345.4,1495.3 351.6,1495.2 357.8,1495.0 364.0,1494.8 370.2,1494.6 376.4,1494.4 382.7,1494.2 388.9,1493.9 395.1,1493.7 401.3,1493.4 407.5,1493.0 413.7,1492.7 419.9,1492.3 426.1,1491.9 432.3,1491.4 438.6,1490.8 444.8,1490.2 451.0,1489.6 457.2,1488.8 463.4,1488.0 469.6,1487.0 475.8,1486.0 482.0,1484.8 488.3,1483.5 494.5,1482.0 500.7,1480.3 506.9,1478.3 513.1,1476.1 519.3,1473.6 525.5,1470.8 531.7,1467.5 538.0,1463.8 544.2,1459.5 550.4,1454.6 556.6,1449.0 562.8,1442.6 569.0,1435.2 575.2,1427.0 581.4,1417.7 587.6,1407.5 593.9,1396.6 600.1,1385.2 606.3,1374.1 612.5,1363.9 618.7,1355.8 624.9,1350.6 631.1,1349.0 637.3,1351.4 643.6,1357.4 649.8,1366.2 656.0,1376.9 662.2,1388.6 668.4,1400.3 674.6,1411.6 680.8,1422.1 687.0,1431.6 693.3,1440.2 699.5,1447.8 705.7,1454.5 711.9,1460.4 718.1,1465.6 724.3,1470.2 730.5,1474.2 736.7,1477.8 742.9,1481.0 749.2,1483.8 755.4,1486.3 761.6,1488.5 767.8,1490.6 774.0,1492.4 780.2,1494.0 786.4,1495.5 792.6,1496.9 798.9,1498.1 805.1,1499.3 811.3,1500.3 817.5,1501.3 823.7,1502.2 829.9,1503.0 836.1,1503.8 842.3,1504.5 848.6,1505.1 854.8,1505.8 861.0,1506.4 867.2,1506.9 873.4,1507.4 879.6,1507.9 885.8,1508.4 892.0,1508.8 898.2,1509.2 904.5,1509.6 910.7,1510.0 916.9,1510.4 923.1,1510.7 929.3,1511.1 935.5,1511.4 941.7,1511.7 947.9,1512.0 954.2,1512.2 960.4,1512.5 966.6,1512.8 972.8,1513.0 979.0,1513.3 985.2,1513.5 991.4,1513.7 997.6,1513.9 1003.9,1514.2 1010.1,1514.4 1016.3,1514.6 1022.5,1514.8" fill="none" stroke="#008a00" stroke-width="5" stroke-linejoin="round" stroke-linecap="round"/>
<polyline points="103.1,1492.2 109.3,1491.9 115.5,1491.6 121.7,1491.2 128.0,1490.9 134.2,1490.5 140.4,1490.1 146.6,1489.7 152.8,1489.3 159.0,1488.8 165.2,1488.4 171.4,1488.0 177.7,1487.5 183.9,1487.1 190.1,1486.6 196.3,1486.2 202.5,1485.7 208.7,1485.3 214.9,1484.9 221.1,1484.5 227.4,1484.2 233.6,1483.9 239.8,1483.6 246.0,1483.4 252.2,1483.2 258.4,1483.1 264.6,1483.1 270.8,1483.0 277.0,1483.1 283.3,1483.1 289.5,1483.3 295.7,1483.4 301.9,1483.6 308.1,1483.8 314.3,1484.1 320.5,1484.4 326.7,1484.8 333.0,1485.1 339.2,1485.5 345.4,1486.0 351.6,1486.5 357.8,1487.0 364.0,1487.5 370.2,1488.1 376.4,1488.7 382.7,1489.3 388.9,1490.0 395.1,1490.6 401.3,1491.3 407.5,1491.9 413.7,1492.6 419.9,1493.2 426.1,1493.9 432.3,1494.5 438.6,1495.1 444.8,1495.7 451.0,1496.3 457.2,1496.8 463.4,1497.4 469.6,1497.9 475.8,1498.4 482.0,1498.8 488.3,1499.2 494.5,1499.6 500.7,1500.0 506.9,1500.3 513.1,1500.6 519.3,1500.8 525.5,1501.0 531.7,1501.2 538.0,1501.3 544.2,1501.4 550.4,1501.4 556.6,1501.4 562.8,1501.3 569.0,1501.1 575.2,1500.6 581.4,1499.9 587.6,1498.7 593.9,1496.8 600.1,1493.9 606.3,1489.4 612.5,1482.8 618.7,1473.2 624.9,1459.8 631.1,1441.8 637.3,1418.2 643.6,1388.6 649.8,1352.6 656.0,1310.9 662.2,1264.4 668.4,1215.3 674.6,1166.0 680.8,1120.1 687.0,1081.2 693.3,1053.0 699.5,1038.4 705.7,1039.4 711.9,1055.6 718.1,1085.4 724.3,1125.5 730.5,1172.2 736.7,1221.9 742.9,1271.3 749.2,1317.7 755.4,1359.3 761.6,1395.0 767.8,1424.4 774.0,1447.8 780.2,1465.7 786.4,1479.0 792.6,1488.7 798.9,1495.5 805.1,1500.2 811.3,1503.4 817.5,1505.7 823.7,1507.2 829.9,1508.4 836.1,1509.2 842.3,1509.9 848.6,1510.4 854.8,1510.9 861.0,1511.4 867.2,1511.8 873.4,1512.1 879.6,1512.4 885.8,1512.8 892.0,1513.0 898.2,1513.3 904.5,1513.6 910.7,1513.8 916.9,1514.1 923.1,1514.3 929.3,1514.5 935.5,1514.7 941.7,1514.9 947.9,1515.1 954.2,1515.3 960.4,1515.5 966.6,1515.6 972.8,1515.8 979.0,1515.9 985.2,1516.1 991.4,1516.3 997.6,1516.4 1003.9,1516.5 1010.1,1516.7 1016.3,1516.8 1022.5,1516.9" fill="none" stroke="#9900ff" stroke-width="5" stroke-linejoin="round" stroke-linecap="round"/>
<polyline points="103.1,1488.7 109.3,1488.9 115.5,1489.1 121.7,1489.1 128.0,1488.8 134.2,1488.5 140.4,1488.0 146.6,1487.6 152.8,1487.1 159.0,1486.6 165.2,1486.1 171.4,1485.6 177.7,1485.1 183.9,1484.5 190.1,1484.0 196.3,1483.5 202.5,1483.0 208.7,1482.6 214.9,1482.3 221.1,1482.1 227.4,1481.9 233.6,1481.6 239.8,1481.2 246.0,1480.7 252.2,1480.2 258.4,1479.7 264.6,1479.3 270.8,1478.9 277.0,1478.2 283.3,1477.5 289.5,1477.1 295.7,1477.0 301.9,1477.2 308.1,1477.7 314.3,1478.2 320.5,1478.1 326.7,1477.8 333.0,1477.8 339.2,1478.1 345.4,1478.6 351.6,1479.4 357.8,1480.1 364.0,1480.6 370.2,1480.8 376.4,1481.1 382.7,1481.4 388.9,1481.6 395.1,1481.9 401.3,1482.1 407.5,1482.3 413.7,1482.3 419.9,1482.3 426.1,1482.3 432.3,1482.2 438.6,1482.1 444.8,1481.9 451.0,1481.5 457.2,1480.5 463.4,1479.2 469.6,1478.0 475.8,1477.1 482.0,1476.3 488.3,1475.5 494.5,1474.3 500.7,1472.7 506.9,1471.1 513.1,1469.1 519.3,1466.8 525.5,1464.2 531.7,1461.4 538.0,1458.3 544.2,1454.4 550.4,1449.5 556.6,1444.0 562.8,1437.7 569.0,1430.3 575.2,1421.4 581.4,1411.2 587.6,1399.2 593.9,1385.3 600.1,1369.5 606.3,1352.5 612.5,1334.7 618.7,1316.3 624.9,1297.4 631.1,1277.4 637.3,1255.4 643.6,1230.3 649.8,1201.6 656.0,1169.4 662.2,1133.7 668.4,1095.4 674.6,1056.4 680.8,1019.3 687.0,986.7 693.3,961.8 699.5,947.4 705.7,945.2 711.9,955.1 718.1,975.8 724.3,1005.2 730.5,1040.6 736.7,1079.2 742.9,1118.8 749.2,1158.5 755.4,1197.9 761.6,1236.9 767.8,1274.8 774.0,1310.9 780.2,1344.4 786.4,1374.7 792.6,1401.5 798.9,1424.8 805.1,1444.6 811.3,1461.0 817.5,1473.6 823.7,1482.6 829.9,1488.5 836.1,1492.5 842.3,1495.4 848.6,1497.4 854.8,1499.1 861.0,1500.4 867.2,1501.3 873.4,1501.7 879.6,1502.1 885.8,1502.7 892.0,1503.5 898.2,1504.3 904.5,1505.2 910.7,1506.1 916.9,1506.9 923.1,1507.5 929.3,1507.7 935.5,1507.5 941.7,1507.3 947.9,1507.4 954.2,1507.7 960.4,1508.3 966.6,1509.3 972.8,1510.3 979.0,1511.1 985.2,1511.6 991.4,1511.9 997.6,1512.2 1003.9,1512.2 1010.1,1511.9 1016.3,1511.6 1022.5,1511.6" fill="none" stroke="#ff0000" stroke-width="5.5" stroke-linejoin="round" stroke-linecap="round"/>
<polyline points="1131.7,1363.3 1137.0,1362.8 1142.2,1363.4 1147.4,1363.7 1152.7,1364.2 1157.9,1363.8 1163.1,1363.9 1168.3,1363.2 1173.6,1363.1 1178.8,1362.7 1184.0,1362.2 1189.3,1363.1 1194.5,1363.5 1199.7,1363.7 1205.0,1364.3 1210.2,1363.6 1215.4,1363.9 1220.6,1363.6 1225.9,1363.3 1231.1,1363.7 1236.3,1362.8 1241.6,1362.4 1246.8,1362.0 1252.0,1362.0 1257.3,1361.7 1262.5,1362.5 1267.7,1362.2 1272.9,1362.7 1278.2,1363.4 1283.4,1363.5 1288.6,1363.5 1293.9,1364.2 1299.1,1364.1 1304.3,1364.5 1309.5,1364.2 1314.8,1363.9 1320.0,1364.2 1325.2,1364.3 1330.5,1363.7 1335.7,1363.1 1341.0,1362.9 1346.4,1362.0 1351.9,1362.0 1357.7,1361.8 1364.4,1361.9 1371.4,1359.2 1378.8,1354.7 1386.0,1347.4 1389.0,1335.1 1390.9,1319.4 1394.2,1299.5 1398.5,1274.9 1403.0,1246.1 1408.4,1215.7 1413.4,1187.3 1418.4,1164.8 1423.8,1151.7 1430.9,1150.8 1436.3,1163.7 1441.6,1187.1 1447.0,1217.7 1452.2,1251.2 1457.9,1283.9 1462.9,1312.7 1468.8,1329.1 1474.1,1341.5 1479.2,1351.9 1483.9,1359.7 1488.5,1364.9 1492.9,1368.1 1497.9,1369.2 1502.8,1368.0 1507.9,1366.9 1512.6,1364.0 1518.0,1360.4 1523.2,1355.8 1528.3,1349.8 1534.2,1342.2 1539.6,1332.7 1545.4,1323.0 1551.0,1312.3 1555.5,1299.5 1560.3,1285.8 1565.8,1272.5 1570.7,1258.3 1575.8,1242.5 1580.9,1225.3 1585.5,1206.7 1590.2,1186.5 1596.0,1164.1 1600.6,1140.1 1605.4,1116.5 1609.7,1096.3 1614.5,1077.3 1618.8,1057.5 1625.2,1041.6 1631.6,1029.8 1637.4,1019.2 1642.8,1008.4 1648.1,998.0 1653.3,987.8 1658.7,977.4 1663.9,967.5 1669.3,959.0 1674.4,952.0 1680.2,947.2 1686.4,947.2 1692.2,948.9 1697.3,954.1 1701.2,963.9 1702.4,983.1 1706.9,1018.5 1710.9,1079.4 1716.4,1125.1 1722.6,1184.6 1727.9,1252.5 1733.9,1298.2 1739.3,1336.1 1744.1,1370.9 1749.2,1402.0 1753.8,1431.1 1759.4,1459.4 1764.8,1484.0 1770.6,1503.3 1776.8,1519.3 1782.6,1529.4 1789.1,1535.0 1793.3,1541.2 1797.9,1546.9 1802.5,1553.2 1809.8,1551.8 1815.5,1552.5 1821.6,1551.9 1827.2,1552.1 1832.8,1551.9 1838.0,1552.5 1843.3,1552.3 1848.5,1552.9 1853.8,1553.1 1858.9,1554.0 1864.1,1554.7 1869.4,1554.9 1874.6,1555.5 1879.8,1556.0 1885.0,1556.6 1890.2,1556.9 1895.5,1556.8 1900.7,1557.7 1905.9,1556.9 1911.2,1557.2 1916.4,1557.2 1921.7,1556.9 1926.9,1556.4 1932.2,1556.2 1937.4,1556.1 1942.6,1556.6 1947.8,1557.4 1953.1,1557.6 1958.3,1558.0 1963.5,1558.7 1968.7,1559.5 1973.9,1560.5 1979.1,1561.3 1984.3,1561.4 1989.6,1561.6 1994.8,1562.1 2000.0,1563.6 2005.2,1563.4 2010.4,1564.1 2015.7,1564.4 2020.9,1563.5 2026.2,1563.5 2031.4,1563.3 2036.6,1563.0 2041.9,1563.4 2047.1,1563.3 2052.3,1562.3 2057.6,1562.9 2062.8,1562.7" fill="none" stroke="#000000" stroke-width="4.5" stroke-linejoin="round" stroke-linecap="round"/>
<polyline points="1131.7,1353.5 1137.0,1353.5 1142.2,1353.5 1147.4,1353.5 1152.7,1353.5 1157.9,1353.5 1163.1,1353.5 1168.3,1353.5 1173.6,1353.5 1178.8,1353.5 1184.0,1353.5 1189.3,1353.5 1194.5,1353.5 1199.7,1353.5 1205.0,1353.5 1210.2,1353.5 1215.4,1353.5 1220.7,1353.5 1225.9,1353.5 1231.1,1353.5 1236.3,1353.5 1241.6,1353.5 1246.8,1353.5 1252.0,1353.5 1257.3,1353.5 1262.5,1353.6 1267.7,1353.6 1273.0,1353.6 1278.2,1353.6 1283.4,1353.6 1288.6,1353.6 1293.9,1353.6 1299.1,1353.6 1304.3,1353.6 1309.6,1353.6 1314.8,1353.6 1320.0,1353.6 1325.3,1353.7 1330.5,1353.7 1335.7,1353.7 1341.0,1353.6 1346.2,1353.6 1351.4,1353.4 1356.6,1353.0 1361.9,1352.1 1367.1,1350.3 1372.3,1347.1 1377.6,1341.4 1382.8,1332.2 1388.0,1318.4 1393.3,1299.3 1398.5,1274.9 1403.7,1246.2 1408.9,1215.8 1414.2,1187.5 1419.4,1165.1 1424.6,1152.3 1429.9,1151.7 1435.1,1164.1 1440.3,1187.4 1445.6,1217.9 1450.8,1251.4 1456.0,1284.2 1461.3,1313.1 1466.5,1330.0 1471.7,1342.6 1476.9,1353.2 1482.2,1361.0 1487.4,1366.3 1492.6,1368.8 1497.9,1370.0 1503.1,1369.5 1508.3,1368.1 1513.6,1365.5 1518.8,1361.3 1524.0,1356.5 1529.3,1350.5 1534.5,1342.4 1539.7,1332.7 1544.9,1322.8 1550.2,1311.9 1555.4,1299.5 1560.6,1285.9 1565.9,1272.5 1571.1,1258.4 1576.3,1242.7 1581.6,1225.5 1586.8,1207.0 1592.0,1186.9 1597.2,1164.4 1602.5,1140.5 1607.7,1117.1 1612.9,1097.1 1618.2,1078.3 1623.4,1058.9 1628.6,1042.9 1633.9,1030.8 1639.1,1020.0 1644.3,1009.2 1649.6,998.8 1654.8,988.6 1660.0,978.1 1665.2,968.2 1670.5,959.8 1675.7,953.3 1680.9,949.2 1686.2,949.3 1691.4,950.5 1696.6,954.6 1701.9,963.6 1707.1,982.2 1712.3,1017.9 1717.6,1078.7 1722.8,1124.4 1728.0,1184.2 1733.2,1252.1 1738.5,1297.6 1743.7,1335.4 1748.9,1370.1 1754.2,1401.2 1759.4,1430.1 1764.6,1458.4 1769.9,1482.7 1775.1,1502.0 1780.3,1517.8 1785.6,1527.4 1790.8,1533.3 1796.0,1537.8 1801.2,1541.6 1806.5,1544.4 1811.7,1546.5 1816.9,1548.3 1822.2,1549.9 1827.4,1551.3 1832.6,1552.5 1837.9,1553.5 1843.1,1554.3 1848.3,1554.9 1853.5,1555.4 1858.8,1555.9 1864.0,1556.3 1869.2,1556.7 1874.5,1557.1 1879.7,1557.4 1884.9,1557.7 1890.2,1558.0 1895.4,1558.3 1900.6,1558.5 1905.9,1558.8 1911.1,1559.0 1916.3,1559.2 1921.5,1559.5 1926.8,1559.7 1932.0,1560.0 1937.2,1560.2 1942.5,1560.4 1947.7,1560.7 1952.9,1560.9 1958.2,1561.1 1963.4,1561.4 1968.6,1561.6 1973.8,1561.8 1979.1,1562.0 1984.3,1562.2 1989.5,1562.4 1994.8,1562.6 2000.0,1562.8 2005.2,1563.0 2010.5,1563.1 2015.7,1563.3 2020.9,1563.5 2026.2,1563.6 2031.4,1563.8 2036.6,1563.9 2041.8,1564.0 2047.1,1564.2 2052.3,1564.3 2057.5,1564.4 2062.8,1564.4" fill="none" stroke="#ff0000" stroke-width="5.5" stroke-linejoin="round" stroke-linecap="round"/>
<polyline points="1131.7,1356.0 1137.0,1356.0 1142.2,1356.0 1147.4,1356.0 1152.7,1356.0 1157.9,1356.0 1163.1,1356.0 1168.3,1356.0 1173.6,1356.0 1178.8,1356.0 1184.0,1356.0 1189.3,1356.0 1194.5,1356.0 1199.7,1356.0 1205.0,1356.0 1210.2,1356.0 1215.4,1356.0 1220.7,1356.0 1225.9,1356.0 1231.1,1356.0 1236.3,1356.0 1241.6,1356.1 1246.8,1356.1 1252.0,1356.1 1257.3,1356.1 1262.5,1356.1 1267.7,1356.1 1273.0,1356.1 1278.2,1356.1 1283.4,1356.1 1288.6,1356.1 1293.9,1356.1 1299.1,1356.2 1304.3,1356.2 1309.6,1356.2 1314.8,1356.2 1320.0,1356.2 1325.3,1356.2 1330.5,1356.2 1335.7,1356.3 1341.0,1356.3 1346.2,1356.3 1351.4,1356.3 1356.6,1356.3 1361.9,1356.4 1367.1,1356.4 1372.3,1356.4 1377.6,1356.4 1382.8,1356.5 1388.0,1356.5 1393.3,1356.6 1398.5,1357.2 1403.7,1358.0 1408.9,1359.2 1414.2,1361.2 1419.4,1363.5 1424.6,1365.8 1429.9,1368.3 1435.1,1370.9 1440.3,1373.5 1445.6,1375.8 1450.8,1377.8 1456.0,1379.7 1461.3,1381.3 1466.5,1382.4 1471.7,1383.1 1476.9,1383.6 1482.2,1384.0 1487.4,1384.4 1492.6,1384.7 1497.9,1385.0 1503.1,1385.2 1508.3,1385.4 1513.6,1385.6 1518.8,1385.8 1524.0,1386.0 1529.3,1386.3 1534.5,1386.7 1539.7,1387.4 1544.9,1388.4 1550.2,1389.5 1555.4,1390.8 1560.6,1392.3 1565.9,1393.9 1571.1,1395.5 1576.3,1397.3 1581.6,1399.6 1586.8,1402.2 1592.0,1405.1 1597.2,1408.3 1602.5,1411.6 1607.7,1415.0 1612.9,1418.4 1618.2,1422.0 1623.4,1425.9 1628.6,1430.1 1633.9,1434.4 1639.1,1439.0 1644.3,1443.7 1649.6,1448.7 1654.8,1454.3 1660.0,1460.9 1665.2,1468.3 1670.5,1475.3 1675.7,1482.5 1680.9,1488.0 1686.2,1491.1 1691.4,1493.7 1696.6,1496.1 1701.9,1499.6 1707.1,1506.7 1712.3,1514.7 1717.6,1523.3 1722.8,1532.4 1728.0,1540.1 1733.2,1545.3 1738.5,1549.3 1743.7,1552.4 1748.9,1554.7 1754.2,1556.5 1759.4,1557.9 1764.6,1558.9 1769.9,1559.8 1775.1,1560.6 1780.3,1561.4 1785.6,1562.0 1790.8,1562.5 1796.0,1562.8 1801.2,1563.0 1806.5,1563.2 1811.7,1563.4 1816.9,1563.5 1822.2,1563.7 1827.4,1563.9 1832.6,1564.0 1837.9,1564.1 1843.1,1564.3 1848.3,1564.4 1853.5,1564.6 1858.8,1564.7 1864.0,1564.8 1869.2,1564.9 1874.5,1565.0 1879.7,1565.2 1884.9,1565.3 1890.2,1565.4 1895.4,1565.5 1900.6,1565.6 1905.9,1565.7 1911.1,1565.8 1916.3,1565.9 1921.5,1565.9 1926.8,1566.0 1932.0,1566.1 1937.2,1566.2 1942.5,1566.2 1947.7,1566.3 1952.9,1566.4 1958.2,1566.4 1963.4,1566.5 1968.6,1566.5 1973.8,1566.6 1979.1,1566.6 1984.3,1566.7 1989.5,1566.7 1994.8,1566.8 2000.0,1566.8 2005.2,1566.8 2010.5,1566.9 2015.7,1566.9 2020.9,1566.9 2026.2,1566.9 2031.4,1566.9 2036.6,1567.0 2041.8,1567.0 2047.1,1567.0 2052.3,1567.0 2057.5,1567.0 2062.8,1567.0" fill="none" stroke="#0000ff" stroke-width="5" stroke-linejoin="round" stroke-linecap="round"/>
<polyline points="1131.7,1356.0 1137.0,1356.0 1142.2,1356.0 1147.4,1356.0 1152.7,1356.0 1157.9,1356.0 1163.1,1356.0 1168.3,1356.0 1173.6,1356.0 1178.8,1356.0 1184.0,1356.0 1189.3,1356.0 1194.5,1356.0 1199.7,1356.0 1205.0,1356.0 1210.2,1356.0 1215.4,1356.0 1220.7,1356.0 1225.9,1356.0 1231.1,1356.0 1236.3,1356.0 1241.6,1356.1 1246.8,1356.1 1252.0,1356.1 1257.3,1356.1 1262.5,1356.1 1267.7,1356.1 1273.0,1356.1 1278.2,1356.1 1283.4,1356.1 1288.6,1356.1 1293.9,1356.1 1299.1,1356.2 1304.3,1356.2 1309.6,1356.2 1314.8,1356.2 1320.0,1356.2 1325.3,1356.2 1330.5,1356.2 1335.7,1356.3 1341.0,1356.3 1346.2,1356.3 1351.4,1356.3 1356.6,1356.3 1361.9,1356.4 1367.1,1356.4 1372.3,1356.4 1377.6,1356.4 1382.8,1356.5 1388.0,1356.5 1393.3,1356.6 1398.5,1357.2 1403.7,1358.0 1408.9,1359.2 1414.2,1361.2 1419.4,1363.5 1424.6,1365.8 1429.9,1368.3 1435.1,1370.9 1440.3,1373.5 1445.6,1375.8 1450.8,1377.8 1456.0,1379.7 1461.3,1381.3 1466.5,1382.4 1471.7,1383.0 1476.9,1383.4 1482.2,1383.7 1487.4,1383.7 1492.6,1383.5 1497.9,1382.9 1503.1,1381.8 1508.3,1379.8 1513.6,1376.8 1518.8,1372.6 1524.0,1367.0 1529.3,1360.0 1534.5,1351.7 1539.7,1342.5 1544.9,1333.0 1550.2,1323.9 1555.4,1316.1 1560.6,1310.4 1565.9,1307.5 1571.1,1308.0 1576.3,1312.1 1581.6,1319.7 1586.8,1330.2 1592.0,1342.7 1597.2,1356.3 1602.5,1369.9 1607.7,1382.9 1612.9,1394.6 1618.2,1405.1 1623.4,1414.3 1628.6,1422.4 1633.9,1429.6 1639.1,1436.0 1644.3,1442.0 1649.6,1447.8 1654.8,1453.8 1660.0,1460.6 1665.2,1468.2 1670.5,1475.3 1675.7,1482.4 1680.9,1487.9 1686.2,1491.1 1691.4,1493.7 1696.6,1496.1 1701.9,1499.6 1707.1,1506.7 1712.3,1514.7 1717.6,1523.3 1722.8,1532.4 1728.0,1540.1 1733.2,1545.3 1738.5,1549.3 1743.7,1552.4 1748.9,1554.7 1754.2,1556.5 1759.4,1557.9 1764.6,1558.9 1769.9,1559.8 1775.1,1560.6 1780.3,1561.4 1785.6,1562.0 1790.8,1562.5 1796.0,1562.8 1801.2,1563.0 1806.5,1563.2 1811.7,1563.4 1816.9,1563.5 1822.2,1563.7 1827.4,1563.9 1832.6,1564.0 1837.9,1564.1 1843.1,1564.3 1848.3,1564.4 1853.5,1564.6 1858.8,1564.7 1864.0,1564.8 1869.2,1564.9 1874.5,1565.0 1879.7,1565.2 1884.9,1565.3 1890.2,1565.4 1895.4,1565.5 1900.6,1565.6 1905.9,1565.7 1911.1,1565.8 1916.3,1565.9 1921.5,1565.9 1926.8,1566.0 1932.0,1566.1 1937.2,1566.2 1942.5,1566.2 1947.7,1566.3 1952.9,1566.4 1958.2,1566.4 1963.4,1566.5 1968.6,1566.5 1973.8,1566.6 1979.1,1566.6 1984.3,1566.7 1989.5,1566.7 1994.8,1566.8 2000.0,1566.8 2005.2,1566.8 2010.5,1566.9 2015.7,1566.9 2020.9,1566.9 2026.2,1566.9 2031.4,1566.9 2036.6,1567.0 2041.8,1567.0 2047.1,1567.0 2052.3,1567.0 2057.5,1567.0 2062.8,1567.0" fill="none" stroke="#008a00" stroke-width="5" stroke-linejoin="round" stroke-linecap="round"/>
<polyline points="1131.7,1356.0 1137.0,1356.0 1142.2,1356.0 1147.4,1356.0 1152.7,1356.0 1157.9,1356.0 1163.1,1356.0 1168.3,1356.0 1173.6,1356.0 1178.8,1356.0 1184.0,1356.0 1189.3,1356.0 1194.5,1356.0 1199.7,1356.0 1205.0,1356.0 1210.2,1356.0 1215.4,1356.0 1220.7,1356.0 1225.9,1356.0 1231.1,1356.0 1236.3,1356.0 1241.6,1356.0 1246.8,1356.0 1252.0,1356.0 1257.3,1356.0 1262.5,1356.1 1267.7,1356.1 1273.0,1356.1 1278.2,1356.1 1283.4,1356.1 1288.6,1356.1 1293.9,1356.1 1299.1,1356.1 1304.3,1356.1 1309.6,1356.1 1314.8,1356.1 1320.0,1356.1 1325.3,1356.2 1330.5,1356.2 1335.7,1356.2 1341.0,1356.1 1346.2,1356.1 1351.4,1355.9 1356.6,1355.5 1361.9,1354.6 1367.1,1352.8 1372.3,1349.6 1377.6,1343.9 1382.8,1334.7 1388.0,1320.9 1393.3,1301.8 1398.5,1277.4 1403.7,1248.7 1408.9,1218.3 1414.2,1190.0 1419.4,1167.6 1424.6,1154.8 1429.9,1154.2 1435.1,1166.6 1440.3,1189.9 1445.6,1220.4 1450.8,1253.9 1456.0,1286.7 1461.3,1315.6 1466.5,1338.6 1471.7,1355.6 1476.9,1367.3 1482.2,1374.9 1487.4,1379.5 1492.6,1382.2 1497.9,1383.8 1503.1,1384.6 1508.3,1385.1 1513.6,1385.4 1518.8,1385.6 1524.0,1385.9 1529.3,1386.2 1534.5,1386.6 1539.7,1387.4 1544.9,1388.3 1550.2,1389.5 1555.4,1390.8 1560.6,1392.3 1565.9,1393.8 1571.1,1395.5 1576.3,1397.3 1581.6,1399.6 1586.8,1402.2 1592.0,1405.1 1597.2,1408.2 1602.5,1411.5 1607.7,1414.9 1612.9,1418.4 1618.2,1422.0 1623.4,1425.9 1628.6,1430.1 1633.9,1434.4 1639.1,1439.0 1644.3,1443.7 1649.6,1448.7 1654.8,1454.3 1660.0,1460.9 1665.2,1468.3 1670.5,1475.3 1675.7,1482.4 1680.9,1487.9 1686.2,1491.1 1691.4,1493.7 1696.6,1496.1 1701.9,1499.6 1707.1,1506.6 1712.3,1514.7 1717.6,1523.2 1722.8,1532.4 1728.0,1540.1 1733.2,1545.3 1738.5,1549.3 1743.7,1552.4 1748.9,1554.7 1754.2,1556.5 1759.4,1557.9 1764.6,1558.9 1769.9,1559.8 1775.1,1560.6 1780.3,1561.3 1785.6,1562.0 1790.8,1562.5 1796.0,1562.8 1801.2,1563.0 1806.5,1563.2 1811.7,1563.4 1816.9,1563.5 1822.2,1563.7 1827.4,1563.8 1832.6,1564.0 1837.9,1564.1 1843.1,1564.3 1848.3,1564.4 1853.5,1564.6 1858.8,1564.7 1864.0,1564.8 1869.2,1564.9 1874.5,1565.0 1879.7,1565.2 1884.9,1565.3 1890.2,1565.4 1895.4,1565.5 1900.6,1565.6 1905.9,1565.7 1911.1,1565.8 1916.3,1565.8 1921.5,1565.9 1926.8,1566.0 1932.0,1566.1 1937.2,1566.2 1942.5,1566.2 1947.7,1566.3 1952.9,1566.4 1958.2,1566.4 1963.4,1566.5 1968.6,1566.5 1973.8,1566.6 1979.1,1566.6 1984.3,1566.7 1989.5,1566.7 1994.8,1566.8 2000.0,1566.8 2005.2,1566.8 2010.5,1566.9 2015.7,1566.9 2020.9,1566.9 2026.2,1566.9 2031.4,1566.9 2036.6,1567.0 2041.8,1567.0 2047.1,1567.0 2052.3,1567.0 2057.5,1567.0 2062.8,1567.0" fill="none" stroke="#000094" stroke-width="5" stroke-linejoin="round" stroke-linecap="round"/>
<polyline points="1131.7,1354.0 1137.0,1354.0 1142.2,1354.0 1147.4,1354.0 1152.7,1354.0 1157.9,1354.0 1163.1,1354.0 1168.3,1354.0 1173.6,1354.0 1178.8,1354.0 1184.0,1354.0 1189.3,1354.0 1194.5,1354.0 1199.7,1354.0 1205.0,1354.0 1210.2,1354.0 1215.4,1354.0 1220.7,1354.0 1225.9,1354.0 1231.1,1354.0 1236.3,1354.0 1241.6,1354.1 1246.8,1354.1 1252.0,1354.1 1257.3,1354.1 1262.5,1354.1 1267.7,1354.1 1273.0,1354.1 1278.2,1354.1 1283.4,1354.1 1288.6,1354.1 1293.9,1354.1 1299.1,1354.2 1304.3,1354.2 1309.6,1354.2 1314.8,1354.2 1320.0,1354.2 1325.3,1354.2 1330.5,1354.2 1335.7,1354.3 1341.0,1354.3 1346.2,1354.3 1351.4,1354.3 1356.6,1354.3 1361.9,1354.4 1367.1,1354.4 1372.3,1354.4 1377.6,1354.4 1382.8,1354.5 1388.0,1354.5 1393.3,1354.7 1398.5,1355.4 1403.7,1356.5 1408.9,1358.0 1414.2,1359.6 1419.4,1361.7 1424.6,1364.4 1429.9,1367.4 1435.1,1370.0 1440.3,1372.6 1445.6,1375.3 1450.8,1377.5 1456.0,1378.5 1461.3,1378.7 1466.5,1378.9 1471.7,1379.1 1476.9,1379.2 1482.2,1379.3 1487.4,1379.4 1492.6,1379.5 1497.9,1379.5 1503.1,1379.5 1508.3,1379.5 1513.6,1379.5 1518.8,1379.5 1524.0,1379.5 1529.3,1379.5 1534.5,1379.5 1539.7,1379.5 1544.9,1379.5 1550.2,1379.5 1555.4,1379.5 1560.6,1379.5 1565.9,1379.4 1571.1,1379.4 1576.3,1379.3 1581.6,1379.2 1586.8,1379.1 1592.0,1379.0 1597.2,1377.3 1602.5,1373.9 1607.7,1368.4 1612.9,1361.3 1618.2,1352.3 1623.4,1340.7 1628.6,1323.6 1633.9,1300.2 1639.1,1271.4 1644.3,1238.4 1649.6,1206.6 1654.8,1175.0 1660.0,1145.6 1665.2,1105.5 1670.5,1064.9 1675.7,1033.4 1680.9,1008.9 1686.2,995.8 1691.4,984.0 1696.6,978.4 1701.9,997.1 1707.1,1022.7 1712.3,1056.3 1717.6,1096.4 1722.8,1135.7 1728.0,1189.7 1733.2,1251.6 1738.5,1296.8 1743.7,1335.3 1748.9,1370.1 1754.2,1401.2 1759.4,1430.1 1764.6,1458.4 1769.9,1482.7 1775.1,1501.9 1780.3,1517.7 1785.6,1527.6 1790.8,1534.1 1796.0,1538.8 1801.2,1542.7 1806.5,1545.4 1811.7,1547.4 1816.9,1549.2 1822.2,1550.7 1827.4,1552.1 1832.6,1553.3 1837.9,1554.2 1843.1,1555.0 1848.3,1555.6 1853.5,1556.1 1858.8,1556.6 1864.0,1557.0 1869.2,1557.4 1874.5,1557.8 1879.7,1558.1 1884.9,1558.5 1890.2,1558.8 1895.4,1559.0 1900.6,1559.3 1905.9,1559.5 1911.1,1559.8 1916.3,1560.0 1921.5,1560.3 1926.8,1560.5 1932.0,1560.8 1937.2,1561.0 1942.5,1561.3 1947.7,1561.5 1952.9,1561.7 1958.2,1562.0 1963.4,1562.2 1968.6,1562.4 1973.8,1562.6 1979.1,1562.9 1984.3,1563.1 1989.5,1563.3 1994.8,1563.5 2000.0,1563.7 2005.2,1563.8 2010.5,1564.0 2015.7,1564.2 2020.9,1564.4 2026.2,1564.5 2031.4,1564.7 2036.6,1564.8 2041.8,1564.9 2047.1,1565.0 2052.3,1565.2 2057.5,1565.3 2062.8,1565.3" fill="none" stroke="#ff00ff" stroke-width="5" stroke-linejoin="round" stroke-linecap="round"/>
<polyline points="1131.7,1358.0 1137.0,1358.0 1142.2,1358.0 1147.4,1358.0 1152.7,1358.0 1157.9,1358.0 1163.1,1358.0 1168.3,1358.0 1173.6,1358.0 1178.8,1358.0 1184.0,1358.0 1189.3,1358.0 1194.5,1358.0 1199.7,1358.0 1205.0,1358.0 1210.2,1358.0 1215.4,1358.0 1220.7,1358.0 1225.9,1358.0 1231.1,1358.0 1236.3,1358.0 1241.6,1358.0 1246.8,1358.0 1252.0,1358.0 1257.3,1358.0 1262.5,1358.0 1267.7,1358.0 1273.0,1358.0 1278.2,1358.0 1283.4,1358.0 1288.6,1358.0 1293.9,1358.0 1299.1,1358.0 1304.3,1358.0 1309.6,1358.0 1314.8,1358.0 1320.0,1358.0 1325.3,1358.0 1330.5,1358.0 1335.7,1358.0 1341.0,1358.0 1346.2,1358.0 1351.4,1358.0 1356.6,1358.0 1361.9,1358.0 1367.1,1358.0 1372.3,1358.0 1377.6,1358.0 1382.8,1358.0 1388.0,1358.0 1393.3,1358.0 1398.5,1358.5 1403.7,1359.7 1408.9,1361.3 1414.2,1363.1 1419.4,1365.2 1424.6,1368.0 1429.9,1370.9 1435.1,1373.5 1440.3,1376.1 1445.6,1378.7 1450.8,1380.9 1456.0,1382.0 1461.3,1382.4 1466.5,1382.8 1471.7,1383.1 1476.9,1383.3 1482.2,1383.4 1487.4,1383.5 1492.6,1383.5 1497.9,1383.5 1503.1,1383.5 1508.3,1383.5 1513.6,1383.5 1518.8,1383.5 1524.0,1383.5 1529.3,1383.5 1534.5,1382.7 1539.7,1380.3 1544.9,1376.8 1550.2,1371.1 1555.4,1363.0 1560.6,1352.7 1565.9,1342.2 1571.1,1330.0 1576.3,1313.6 1581.6,1294.6 1586.8,1276.2 1592.0,1257.1 1597.2,1235.9 1602.5,1215.6 1607.7,1197.1 1612.9,1182.7 1618.2,1174.4 1623.4,1170.5 1628.6,1173.5 1633.9,1181.3 1639.1,1196.6 1644.3,1220.8 1649.6,1255.4 1654.8,1287.3 1660.0,1318.6 1665.2,1350.9 1670.5,1382.7 1675.7,1407.4 1680.9,1427.5 1686.2,1444.3 1691.4,1458.8 1696.6,1472.6 1701.9,1485.9 1707.1,1498.4 1712.3,1509.8 1717.6,1520.2 1722.8,1529.6 1728.0,1537.8 1733.2,1543.4 1738.5,1547.8 1743.7,1550.9 1748.9,1553.1 1754.2,1554.9 1759.4,1556.3 1764.6,1557.7 1769.9,1559.0 1775.1,1560.2 1780.3,1561.3 1785.6,1562.1 1790.8,1562.7 1796.0,1563.0 1801.2,1563.3 1806.5,1563.6 1811.7,1563.8 1816.9,1564.0 1822.2,1564.2 1827.4,1564.4 1832.6,1564.6 1837.9,1564.7 1843.1,1564.9 1848.3,1565.0 1853.5,1565.1 1858.8,1565.3 1864.0,1565.4 1869.2,1565.5 1874.5,1565.6 1879.7,1565.7 1884.9,1565.7 1890.2,1565.8 1895.4,1565.9 1900.6,1566.0 1905.9,1566.1 1911.1,1566.2 1916.3,1566.3 1921.5,1566.4 1926.8,1566.5 1932.0,1566.6 1937.2,1566.6 1942.5,1566.7 1947.7,1566.8 1952.9,1566.9 1958.2,1567.0 1963.4,1567.1 1968.6,1567.1 1973.8,1567.2 1979.1,1567.3 1984.3,1567.3 1989.5,1567.4 1994.8,1567.5 2000.0,1567.5 2005.2,1567.6 2010.5,1567.7 2015.7,1567.7 2020.9,1567.8 2026.2,1567.8 2031.4,1567.8 2036.6,1567.9 2041.8,1567.9 2047.1,1567.9 2052.3,1568.0 2057.5,1568.0 2062.8,1568.0" fill="none" stroke="#9900ff" stroke-width="5" stroke-linejoin="round" stroke-linecap="round"/>
<line x1="442.4" y1="1114.1" x2="467.3" y2="1114.1" stroke="#9900ff" stroke-width="2.9"/>
<path d="M467.3,1114.1 L479.8,1088.4 L508.7,1088.4 L521.2,1114.1 L508.7,1138.7 L479.8,1138.7 Z" fill="none" stroke="#9900ff" stroke-width="2.9" stroke-linejoin="miter"/>
<line x1="476.2" y1="1113.2" x2="485.1" y2="1098.4" stroke="#9900ff" stroke-width="2.9"/>
<line x1="504.0" y1="1098.4" x2="512.9" y2="1113.2" stroke="#9900ff" stroke-width="2.9"/>
<line x1="485.7" y1="1130.6" x2="504.0" y2="1130.6" stroke="#9900ff" stroke-width="2.9"/>
<line x1="521.2" y1="1114.1" x2="539.5" y2="1114.1" stroke="#9900ff" stroke-width="2.9"/>
<line x1="555.5" y1="1114.1" x2="575.1" y2="1114.1" stroke="#9900ff" stroke-width="2.9"/>
<path d="M575.1,1114.1 L587.9,1088.4 L617.3,1088.4 L630.1,1114.1 L617.3,1138.7 L587.9,1138.7 Z" fill="none" stroke="#9900ff" stroke-width="2.9" stroke-linejoin="miter"/>
<line x1="584.0" y1="1113.2" x2="593.4" y2="1098.4" stroke="#9900ff" stroke-width="2.9"/>
<line x1="611.8" y1="1098.4" x2="621.3" y2="1113.2" stroke="#9900ff" stroke-width="2.9"/>
<line x1="594.0" y1="1130.6" x2="611.8" y2="1130.6" stroke="#9900ff" stroke-width="2.9"/>
<line x1="630.1" y1="1114.1" x2="658.6" y2="1114.1" stroke="#9900ff" stroke-width="2.9"/>
<text transform="translate(540.01,1101.40) scale(0.9792,1)" font-size="18.84" fill="#9900ff" style="font-weight:normal">H</text>
<text transform="translate(540.01,1118.60) scale(1.0183,1)" font-size="18.12" fill="#9900ff" style="font-weight:normal">N</text>
<line x1="347.8" y1="1398.0" x2="371.3" y2="1398.0" stroke="#008a00" stroke-width="2.9"/>
<path d="M371.3,1398.0 L383.7,1373.4 L412.2,1373.4 L424.6,1398.0 L412.2,1423.1 L383.7,1423.1 Z" fill="none" stroke="#008a00" stroke-width="2.9" stroke-linejoin="miter"/>
<line x1="380.5" y1="1397.6" x2="389.0" y2="1382.6" stroke="#008a00" stroke-width="2.9"/>
<line x1="408.2" y1="1382.6" x2="416.7" y2="1397.6" stroke="#008a00" stroke-width="2.9"/>
<line x1="389.7" y1="1414.2" x2="406.8" y2="1414.2" stroke="#008a00" stroke-width="2.9"/>
<line x1="424.6" y1="1398.0" x2="443.0" y2="1398.0" stroke="#008a00" stroke-width="2.9"/>
<line x1="458.7" y1="1398.0" x2="477.1" y2="1398.0" stroke="#008a00" stroke-width="2.9"/>
<path d="M477.1,1398.0 L489.5,1373.4 L518.0,1373.4 L530.4,1398.0 L518.0,1423.1 L489.5,1423.1 Z" fill="none" stroke="#008a00" stroke-width="2.9" stroke-linejoin="miter"/>
<line x1="486.4" y1="1397.6" x2="494.9" y2="1382.6" stroke="#008a00" stroke-width="2.9"/>
<line x1="514.1" y1="1382.6" x2="522.6" y2="1397.6" stroke="#008a00" stroke-width="2.9"/>
<line x1="495.6" y1="1414.2" x2="512.7" y2="1414.2" stroke="#008a00" stroke-width="2.9"/>
<line x1="530.4" y1="1398.0" x2="559.6" y2="1398.0" stroke="#008a00" stroke-width="2.9"/>
<text transform="translate(443.19,1386.20) scale(0.9832,1)" font-size="17.54" fill="#008a00" style="font-weight:normal">H</text>
<text transform="translate(443.19,1403.20) scale(0.9294,1)" font-size="18.55" fill="#008a00" style="font-weight:normal">N</text>
<line x1="442.8" y1="1411.0" x2="450.4" y2="1411.0" stroke="#008a00" stroke-width="2.2"/>
<line x1="446.6" y1="1407.2" x2="446.6" y2="1414.8" stroke="#008a00" stroke-width="2.2"/>
<circle cx="453.2" cy="1410.4" r="1.1" fill="#008a00"/><circle cx="456.4" cy="1410.4" r="1.1" fill="#008a00"/>
<line x1="809.6" y1="1445.0" x2="833.6" y2="1445.0" stroke="#ff00ff" stroke-width="2.9"/>
<path d="M833.6,1445.0 L846.2,1420.4 L875.2,1420.4 L887.8,1445.0 L875.2,1469.6 L846.2,1469.6 Z" fill="none" stroke="#ff00ff" stroke-width="2.9" stroke-linejoin="miter"/>
<line x1="843.4" y1="1445.0" x2="851.4" y2="1429.6" stroke="#ff00ff" stroke-width="2.9"/>
<line x1="871.1" y1="1429.6" x2="879.1" y2="1445.0" stroke="#ff00ff" stroke-width="2.9"/>
<line x1="852.7" y1="1461.2" x2="870.5" y2="1461.2" stroke="#ff00ff" stroke-width="2.9"/>
<line x1="887.8" y1="1445.0" x2="906.9" y2="1445.0" stroke="#ff00ff" stroke-width="2.9"/>
<text transform="translate(906.83,1450.50) scale(0.8859,1)" font-size="20.43" fill="#ff00ff" style="font-weight:normal">N</text>
<line x1="921.6" y1="1440.7" x2="941.4" y2="1440.7" stroke="#ff00ff" stroke-width="2.9"/>
<line x1="921.6" y1="1450.5" x2="941.4" y2="1450.5" stroke="#ff00ff" stroke-width="2.9"/>
<path d="M942.6,1445.0 L954.7,1420.4 L982.8,1420.4 L994.9,1445.0 L982.8,1469.6 L954.7,1469.6 Z" fill="none" stroke="#ff00ff" stroke-width="2.9" stroke-linejoin="miter"/>
<line x1="959.8" y1="1429.6" x2="978.3" y2="1429.6" stroke="#ff00ff" stroke-width="2.9"/>
<line x1="959.8" y1="1461.6" x2="978.3" y2="1461.6" stroke="#ff00ff" stroke-width="2.9"/>
<line x1="994.9" y1="1440.7" x2="1024.5" y2="1440.7" stroke="#ff00ff" stroke-width="2.9"/>
<line x1="994.9" y1="1450.5" x2="1024.5" y2="1450.5" stroke="#ff00ff" stroke-width="2.9"/>
<text transform="translate(624.23,1072.60) scale(0.9091,1)" font-size="40.43" fill="#9900ff">N2</text>
<text transform="translate(550.65,1372.01) scale(0.9435,1)" font-size="38.59" fill="#008a00">N3</text>
<text transform="translate(797.00,1403.70) scale(0.9835,1)" font-size="39.28" fill="#ff00ff" clip-path="url(#c1_5)">N1</text>
<text transform="translate(1359.39,1181.90) scale(0.9090,1)" font-size="39.42" fill="#000080">N4</text>
<text transform="translate(1498.66,1306.32) scale(0.9803,1)" font-size="38.45" fill="#008a00">N3</text>
<text transform="translate(1607.14,1161.00) scale(0.9346,1)" font-size="39.14" fill="#9900ff">N2</text>
<text transform="translate(1715.44,1066.00) scale(0.9889,1)" font-size="39.86" fill="#ff00ff" clip-path="url(#c1_6)">N1</text>
</svg></body></html>
